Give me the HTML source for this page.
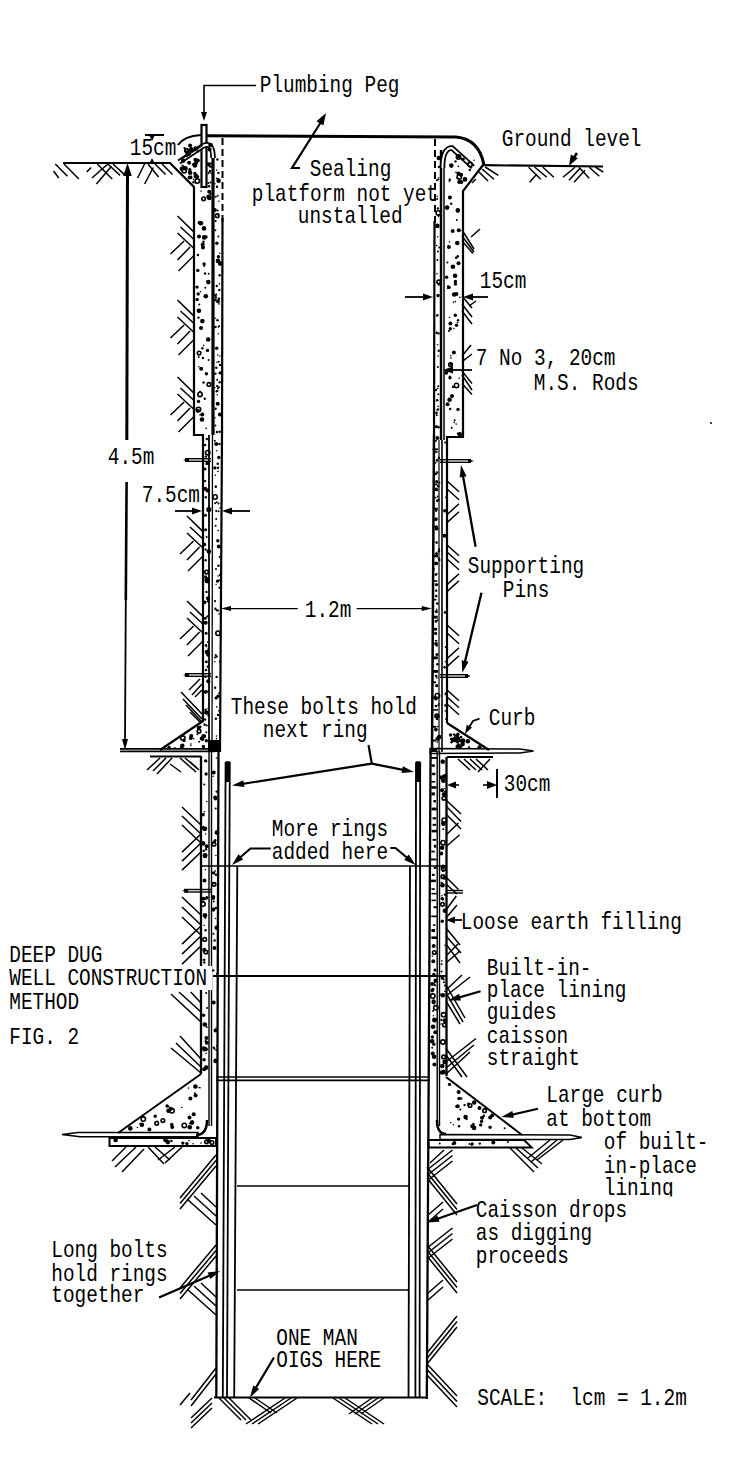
<!DOCTYPE html>
<html><head><meta charset="utf-8"><style>
html,body{margin:0;padding:0;background:#fff;width:742px;height:1461px;overflow:hidden}
svg{display:block}
</style></head><body>
<svg width="742" height="1461" viewBox="0 0 742 1461">
<rect width="742" height="1461" fill="#fff"/>
<g stroke="#000" fill="none">
<polyline points="256.0,85.5 204.0,85.5 204.0,113.0" stroke-width="1.6"/>
<polygon points="204.0,121.0 201.0,112.0 207.0,112.0" fill="#000" stroke-width="0"/>
<rect x="201.5" y="125" width="5" height="62" fill="none" stroke-width="2.2"/>
<path d="M178,145 Q184,136 201,135" stroke-width="2.2" fill="none"/>
<path d="M206,135.8 L456,137 Q479,139 484,165" stroke-width="3" fill="none"/>
<line x1="63.0" y1="163.0" x2="171.0" y2="163.0" stroke-width="2.2"/>
<line x1="483.0" y1="165.2" x2="603.0" y2="166.5" stroke-width="2.2"/>
<line x1="55.3" y1="164.0" x2="67.5" y2="176.3" stroke-width="1.5"/>
<line x1="53.5" y1="171.0" x2="58.8" y2="178.0" stroke-width="1.5"/>
<line x1="64.0" y1="164.0" x2="78.9" y2="179.0" stroke-width="1.5"/>
<line x1="86.8" y1="171.9" x2="91.2" y2="167.5" stroke-width="1.5"/>
<line x1="107.8" y1="164.0" x2="92.0" y2="178.0" stroke-width="1.5"/>
<line x1="111.3" y1="166.6" x2="96.4" y2="184.0" stroke-width="1.5"/>
<line x1="97.3" y1="164.0" x2="112.2" y2="179.0" stroke-width="1.5"/>
<line x1="107.8" y1="164.0" x2="120.0" y2="175.4" stroke-width="1.5"/>
<line x1="113.0" y1="164.0" x2="125.3" y2="175.4" stroke-width="1.5"/>
<line x1="144.6" y1="164.0" x2="137.6" y2="178.0" stroke-width="1.5"/>
<line x1="153.3" y1="167.5" x2="144.6" y2="184.0" stroke-width="1.5"/>
<line x1="148.0" y1="164.0" x2="158.6" y2="177.0" stroke-width="1.5"/>
<line x1="155.0" y1="164.0" x2="165.6" y2="174.5" stroke-width="1.5"/>
<line x1="162.0" y1="164.0" x2="172.6" y2="174.5" stroke-width="1.5"/>
<line x1="485.2" y1="167.0" x2="498.3" y2="175.3" stroke-width="1.5"/>
<line x1="482.0" y1="169.0" x2="494.0" y2="179.3" stroke-width="1.5"/>
<line x1="479.0" y1="172.0" x2="488.0" y2="181.0" stroke-width="1.5"/>
<line x1="476.0" y1="179.0" x2="472.0" y2="183.0" stroke-width="1.5"/>
<line x1="528.6" y1="167.2" x2="540.7" y2="179.3" stroke-width="1.5"/>
<line x1="534.6" y1="167.0" x2="546.8" y2="177.3" stroke-width="1.5"/>
<line x1="542.7" y1="167.0" x2="553.8" y2="177.3" stroke-width="1.5"/>
<line x1="536.7" y1="174.2" x2="529.6" y2="182.3" stroke-width="1.5"/>
<line x1="575.0" y1="167.2" x2="563.0" y2="177.3" stroke-width="1.5"/>
<line x1="580.0" y1="168.2" x2="569.0" y2="180.3" stroke-width="1.5"/>
<line x1="585.0" y1="170.2" x2="574.0" y2="182.3" stroke-width="1.5"/>
<line x1="579.0" y1="167.2" x2="589.2" y2="178.3" stroke-width="1.5"/>
<line x1="589.2" y1="167.2" x2="599.3" y2="176.3" stroke-width="1.5"/>
<line x1="595.3" y1="167.0" x2="603.3" y2="172.2" stroke-width="1.5"/>
<polyline points="170.0,163.0 194.0,187.0 194.0,435.0 203.0,435.0 203.0,722.0" stroke-width="2.2"/>
<line x1="222.5" y1="138.0" x2="222.5" y2="145.0" stroke-width="2"/>
<line x1="222.5" y1="149.0" x2="222.5" y2="156.0" stroke-width="2"/>
<line x1="222.5" y1="160.0" x2="222.5" y2="167.0" stroke-width="2"/>
<line x1="222.5" y1="171.0" x2="222.5" y2="178.0" stroke-width="2"/>
<line x1="222.5" y1="182.0" x2="222.5" y2="189.0" stroke-width="2"/>
<line x1="222.5" y1="193.0" x2="222.5" y2="200.0" stroke-width="2"/>
<line x1="222.5" y1="204.0" x2="222.5" y2="211.0" stroke-width="2"/>
<line x1="222.5" y1="215.0" x2="222.5" y2="222.0" stroke-width="2"/>
<line x1="222.5" y1="218.0" x2="222.0" y2="435.0" stroke-width="2.2"/>
<line x1="222.0" y1="435.0" x2="220.0" y2="752.0" stroke-width="2.2"/>
<line x1="213.0" y1="153.0" x2="213.0" y2="435.0" stroke-width="3.2"/>
<line x1="212.5" y1="435.0" x2="212.0" y2="752.0" stroke-width="1.3"/>
<line x1="209.0" y1="435.0" x2="209.0" y2="752.0" stroke-width="1.8"/>
<path d="M179,162 L203,146 Q213,141 213,158" stroke-width="5.5" fill="none"/>
<path d="M179,162 L203,146 Q213,141 213,158" stroke-width="2.0" fill="none" stroke="#fff"/>
<line x1="182.0" y1="159.0" x2="203.0" y2="145.5" stroke-width="1"/>
<line x1="145.0" y1="135.0" x2="164.0" y2="135.0" stroke-width="2"/>
<polygon points="152.0,141.0 149.0,135.0 155.0,135.0" fill="#000" stroke-width="0"/>
<polygon points="152.0,158.0 155.0,164.0 149.0,164.0" fill="#000" stroke-width="0"/>
<line x1="127.5" y1="170.0" x2="126.8" y2="440.0" stroke-width="3"/>
<line x1="126.6" y1="482.0" x2="125.8" y2="600.0" stroke-width="2.6"/>
<line x1="125.8" y1="600.0" x2="125.0" y2="742.0" stroke-width="1.8"/>
<polygon points="127.5,163.0 131.8,176.0 123.2,176.0" fill="#000" stroke-width="0"/>
<polygon points="125.0,750.0 122.0,739.0 128.0,739.0" fill="#000" stroke-width="0"/>
<line x1="175.0" y1="511.0" x2="197.0" y2="511.0" stroke-width="1.8"/>
<polygon points="202.0,511.0 192.0,514.5 192.0,507.5" fill="#000" stroke-width="0"/>
<line x1="250.0" y1="511.0" x2="227.0" y2="511.0" stroke-width="1.8"/>
<polygon points="222.0,511.0 232.0,507.5 232.0,514.5" fill="#000" stroke-width="0"/>
<line x1="185.0" y1="458.7" x2="211.0" y2="458.7" stroke-width="1.4"/>
<line x1="185.0" y1="461.3" x2="211.0" y2="461.3" stroke-width="1.4"/>
<polygon points="183.0,460.0 189.0,458.0 189.0,462.0" fill="#000" stroke-width="0"/>
<line x1="185.0" y1="673.7" x2="211.0" y2="673.7" stroke-width="1.4"/>
<line x1="185.0" y1="676.3" x2="211.0" y2="676.3" stroke-width="1.4"/>
<polygon points="183.0,675.0 189.0,673.0 189.0,677.0" fill="#000" stroke-width="0"/>
<line x1="203.0" y1="721.0" x2="160.0" y2="750.0" stroke-width="2.2"/>
<line x1="120.0" y1="748.8" x2="215.0" y2="748.8" stroke-width="1.7"/>
<line x1="120.0" y1="751.4" x2="215.0" y2="751.4" stroke-width="1.7"/>
<rect x="208" y="740" width="11" height="12" fill="#000" stroke-width="0"/>
<line x1="150.0" y1="756.5" x2="201.0" y2="756.5" stroke-width="2"/>
<line x1="201.0" y1="756.0" x2="201.0" y2="1074.0" stroke-width="2.3"/>
<line x1="209.0" y1="752.0" x2="209.0" y2="1126.0" stroke-width="1.4"/>
<line x1="211.5" y1="752.0" x2="211.5" y2="1126.0" stroke-width="1.4"/>
<line x1="218.5" y1="752.0" x2="216.3" y2="1397.0" stroke-width="2.3"/>
<circle cx="182.8" cy="738.1" r="2.2" fill="none" stroke-width="1.6"/>
<circle cx="182.8" cy="746.1" r="1.2" fill="#000" stroke-width="0"/>
<circle cx="183.9" cy="739.6" r="1.0" fill="#000" stroke-width="0"/>
<circle cx="199.2" cy="741.7" r="1.0" fill="#000" stroke-width="0"/>
<circle cx="206.4" cy="740.7" r="1.7" fill="#000" stroke-width="0"/>
<circle cx="190.7" cy="745.5" r="0.8" fill="#000" stroke-width="0"/>
<circle cx="182.3" cy="745.7" r="2.3" fill="#000" stroke-width="0"/>
<circle cx="204.9" cy="725.2" r="0.8" fill="#000" stroke-width="0"/>
<circle cx="204.6" cy="724.4" r="1.2" fill="#000" stroke-width="0"/>
<circle cx="191.0" cy="744.0" r="0.8" fill="#000" stroke-width="0"/>
<circle cx="180.9" cy="747.9" r="1.2" fill="#000" stroke-width="0"/>
<circle cx="198.7" cy="727.8" r="2.0" fill="#000" stroke-width="0"/>
<circle cx="197.4" cy="734.3" r="1.0" fill="#000" stroke-width="0"/>
<circle cx="199.0" cy="731.2" r="1.8" fill="none" stroke-width="1.6"/>
<circle cx="189.7" cy="738.6" r="0.8" fill="#000" stroke-width="0"/>
<circle cx="197.5" cy="731.9" r="0.8" fill="#000" stroke-width="0"/>
<circle cx="200.3" cy="726.7" r="1.2" fill="#000" stroke-width="0"/>
<circle cx="169.1" cy="747.5" r="1.7" fill="#000" stroke-width="0"/>
<circle cx="190.9" cy="738.0" r="2.0" fill="#000" stroke-width="0"/>
<circle cx="202.6" cy="739.3" r="1.7" fill="#000" stroke-width="0"/>
<circle cx="203.6" cy="736.3" r="2.3" fill="#000" stroke-width="0"/>
<circle cx="184.0" cy="740.6" r="1.7" fill="#000" stroke-width="0"/>
<circle cx="174.9" cy="747.8" r="0.8" fill="#000" stroke-width="0"/>
<circle cx="206.8" cy="725.5" r="1.0" fill="#000" stroke-width="0"/>
<circle cx="193.8" cy="738.8" r="0.8" fill="#000" stroke-width="0"/>
<circle cx="204.5" cy="735.8" r="1.0" fill="#000" stroke-width="0"/>
<circle cx="191.3" cy="736.0" r="2.0" fill="#000" stroke-width="0"/>
<circle cx="206.3" cy="732.2" r="1.0" fill="#000" stroke-width="0"/>
<circle cx="203.4" cy="746.5" r="1.7" fill="#000" stroke-width="0"/>
<circle cx="201.7" cy="738.5" r="2.0" fill="#000" stroke-width="0"/>
<line x1="160.0" y1="758.0" x2="147.0" y2="770.0" stroke-width="1.5"/>
<line x1="166.0" y1="758.0" x2="153.0" y2="771.0" stroke-width="1.5"/>
<line x1="172.0" y1="758.0" x2="157.0" y2="774.0" stroke-width="1.5"/>
<line x1="180.0" y1="758.0" x2="196.0" y2="772.0" stroke-width="1.5"/>
<line x1="185.0" y1="758.0" x2="197.0" y2="768.0" stroke-width="1.5"/>
<line x1="190.0" y1="762.0" x2="199.0" y2="770.0" stroke-width="1.5"/>
<line x1="170.0" y1="764.0" x2="181.0" y2="772.0" stroke-width="1.5"/>
<line x1="177.5" y1="216.0" x2="193.5" y2="231.6" stroke-width="1.5"/>
<line x1="180.5" y1="227.0" x2="193.5" y2="239.0" stroke-width="1.5"/>
<line x1="177.5" y1="233.0" x2="193.5" y2="248.0" stroke-width="1.5"/>
<line x1="184.1" y1="241.0" x2="170.5" y2="254.0" stroke-width="1.5"/>
<line x1="190.1" y1="247.0" x2="177.5" y2="260.0" stroke-width="1.5"/>
<line x1="193.5" y1="256.0" x2="178.5" y2="271.0" stroke-width="1.5"/>
<line x1="177.5" y1="300.0" x2="193.5" y2="315.6" stroke-width="1.5"/>
<line x1="180.5" y1="311.0" x2="193.5" y2="323.0" stroke-width="1.5"/>
<line x1="177.5" y1="317.0" x2="193.5" y2="332.0" stroke-width="1.5"/>
<line x1="184.1" y1="325.0" x2="170.5" y2="338.0" stroke-width="1.5"/>
<line x1="190.1" y1="331.0" x2="177.5" y2="344.0" stroke-width="1.5"/>
<line x1="193.5" y1="340.0" x2="178.5" y2="355.0" stroke-width="1.5"/>
<line x1="177.5" y1="377.0" x2="193.5" y2="392.6" stroke-width="1.5"/>
<line x1="180.5" y1="388.0" x2="193.5" y2="400.0" stroke-width="1.5"/>
<line x1="177.5" y1="394.0" x2="193.5" y2="409.0" stroke-width="1.5"/>
<line x1="184.1" y1="402.0" x2="170.5" y2="415.0" stroke-width="1.5"/>
<line x1="190.1" y1="408.0" x2="177.5" y2="421.0" stroke-width="1.5"/>
<line x1="193.5" y1="417.0" x2="178.5" y2="432.0" stroke-width="1.5"/>
<line x1="187.0" y1="516.0" x2="203.0" y2="531.6" stroke-width="1.5"/>
<line x1="190.0" y1="527.0" x2="203.0" y2="539.0" stroke-width="1.5"/>
<line x1="187.0" y1="533.0" x2="203.0" y2="548.0" stroke-width="1.5"/>
<line x1="193.6" y1="541.0" x2="180.0" y2="554.0" stroke-width="1.5"/>
<line x1="199.6" y1="547.0" x2="187.0" y2="560.0" stroke-width="1.5"/>
<line x1="203.0" y1="556.0" x2="188.0" y2="571.0" stroke-width="1.5"/>
<line x1="187.0" y1="601.0" x2="203.0" y2="616.6" stroke-width="1.5"/>
<line x1="190.0" y1="612.0" x2="203.0" y2="624.0" stroke-width="1.5"/>
<line x1="187.0" y1="618.0" x2="203.0" y2="633.0" stroke-width="1.5"/>
<line x1="193.6" y1="626.0" x2="180.0" y2="639.0" stroke-width="1.5"/>
<line x1="199.6" y1="632.0" x2="187.0" y2="645.0" stroke-width="1.5"/>
<line x1="203.0" y1="641.0" x2="188.0" y2="656.0" stroke-width="1.5"/>
<line x1="181.0" y1="692.0" x2="202.0" y2="714.0" stroke-width="1.5"/>
<line x1="183.0" y1="699.0" x2="202.0" y2="719.0" stroke-width="1.5"/>
<line x1="186.0" y1="705.0" x2="202.0" y2="722.0" stroke-width="1.5"/>
<line x1="190.0" y1="712.0" x2="201.0" y2="723.0" stroke-width="1.5"/>
<line x1="200.0" y1="679.0" x2="189.0" y2="690.0" stroke-width="1.5"/>
<line x1="202.0" y1="684.0" x2="192.0" y2="695.0" stroke-width="1.5"/>
<line x1="202.0" y1="690.0" x2="195.0" y2="697.0" stroke-width="1.5"/>
<circle cx="201.1" cy="191.1" r="0.8" fill="#000" stroke-width="0"/>
<circle cx="201.2" cy="368.8" r="2.0" fill="#000" stroke-width="0"/>
<circle cx="202.4" cy="321.1" r="2.3" fill="#000" stroke-width="0"/>
<circle cx="202.7" cy="244.6" r="2.0" fill="#000" stroke-width="0"/>
<circle cx="207.5" cy="350.4" r="1.7" fill="#000" stroke-width="0"/>
<circle cx="200.9" cy="223.2" r="2.3" fill="#000" stroke-width="0"/>
<circle cx="197.7" cy="410.8" r="2.0" fill="#000" stroke-width="0"/>
<circle cx="203.0" cy="247.4" r="2.0" fill="#000" stroke-width="0"/>
<circle cx="198.2" cy="294.0" r="1.7" fill="#000" stroke-width="0"/>
<circle cx="204.3" cy="265.9" r="1.0" fill="#000" stroke-width="0"/>
<circle cx="200.6" cy="408.3" r="0.8" fill="#000" stroke-width="0"/>
<circle cx="197.7" cy="298.9" r="0.8" fill="#000" stroke-width="0"/>
<circle cx="208.3" cy="282.1" r="2.3" fill="#000" stroke-width="0"/>
<circle cx="200.0" cy="394.4" r="2.2" fill="none" stroke-width="1.6"/>
<circle cx="200.1" cy="391.9" r="1.2" fill="#000" stroke-width="0"/>
<circle cx="204.1" cy="264.0" r="1.7" fill="#000" stroke-width="0"/>
<circle cx="205.3" cy="287.7" r="1.0" fill="#000" stroke-width="0"/>
<circle cx="198.8" cy="222.7" r="1.2" fill="#000" stroke-width="0"/>
<circle cx="203.6" cy="345.4" r="0.8" fill="#000" stroke-width="0"/>
<circle cx="206.0" cy="237.0" r="1.7" fill="#000" stroke-width="0"/>
<circle cx="206.4" cy="373.7" r="1.7" fill="#000" stroke-width="0"/>
<circle cx="197.9" cy="255.0" r="1.2" fill="#000" stroke-width="0"/>
<circle cx="208.6" cy="360.1" r="1.0" fill="#000" stroke-width="0"/>
<circle cx="197.1" cy="299.6" r="1.7" fill="#000" stroke-width="0"/>
<circle cx="201.0" cy="327.9" r="2.0" fill="#000" stroke-width="0"/>
<circle cx="202.4" cy="348.2" r="1.2" fill="#000" stroke-width="0"/>
<circle cx="208.9" cy="384.4" r="1.8" fill="none" stroke-width="1.6"/>
<circle cx="198.4" cy="409.4" r="2.2" fill="none" stroke-width="1.6"/>
<circle cx="203.6" cy="382.5" r="1.2" fill="#000" stroke-width="0"/>
<circle cx="208.7" cy="273.7" r="1.0" fill="#000" stroke-width="0"/>
<circle cx="200.5" cy="291.7" r="0.8" fill="#000" stroke-width="0"/>
<circle cx="198.5" cy="401.4" r="1.7" fill="#000" stroke-width="0"/>
<circle cx="197.8" cy="270.4" r="1.7" fill="#000" stroke-width="0"/>
<circle cx="205.8" cy="296.3" r="2.3" fill="#000" stroke-width="0"/>
<circle cx="198.5" cy="317.6" r="1.2" fill="#000" stroke-width="0"/>
<circle cx="204.0" cy="228.4" r="2.3" fill="#000" stroke-width="0"/>
<circle cx="199.1" cy="353.1" r="1.8" fill="none" stroke-width="1.6"/>
<circle cx="199.9" cy="222.7" r="2.0" fill="#000" stroke-width="0"/>
<circle cx="204.2" cy="237.4" r="2.3" fill="#000" stroke-width="0"/>
<circle cx="203.6" cy="198.8" r="1.8" fill="none" stroke-width="1.6"/>
<circle cx="202.9" cy="358.0" r="1.2" fill="#000" stroke-width="0"/>
<circle cx="202.3" cy="414.5" r="2.0" fill="#000" stroke-width="0"/>
<circle cx="199.3" cy="304.4" r="1.0" fill="#000" stroke-width="0"/>
<circle cx="206.2" cy="428.4" r="0.8" fill="#000" stroke-width="0"/>
<circle cx="198.6" cy="357.0" r="1.0" fill="#000" stroke-width="0"/>
<circle cx="198.9" cy="310.7" r="2.3" fill="#000" stroke-width="0"/>
<circle cx="199.0" cy="236.6" r="2.0" fill="#000" stroke-width="0"/>
<circle cx="208.2" cy="339.5" r="2.3" fill="#000" stroke-width="0"/>
<circle cx="203.5" cy="241.7" r="1.2" fill="#000" stroke-width="0"/>
<circle cx="204.8" cy="398.8" r="1.2" fill="#000" stroke-width="0"/>
<circle cx="205.0" cy="273.5" r="1.2" fill="#000" stroke-width="0"/>
<circle cx="200.0" cy="415.0" r="0.8" fill="#000" stroke-width="0"/>
<circle cx="198.8" cy="366.7" r="0.8" fill="#000" stroke-width="0"/>
<circle cx="202.0" cy="419.5" r="2.3" fill="#000" stroke-width="0"/>
<circle cx="197.0" cy="287.1" r="1.7" fill="#000" stroke-width="0"/>
<circle cx="206.1" cy="670.0" r="1.2" fill="#000" stroke-width="0"/>
<circle cx="207.0" cy="652.1" r="2.3" fill="#000" stroke-width="0"/>
<circle cx="209.0" cy="664.8" r="0.8" fill="#000" stroke-width="0"/>
<circle cx="207.1" cy="598.1" r="0.8" fill="#000" stroke-width="0"/>
<circle cx="208.0" cy="601.2" r="1.2" fill="#000" stroke-width="0"/>
<circle cx="206.8" cy="653.9" r="1.0" fill="#000" stroke-width="0"/>
<circle cx="206.6" cy="537.1" r="1.0" fill="#000" stroke-width="0"/>
<circle cx="206.7" cy="646.7" r="0.8" fill="#000" stroke-width="0"/>
<circle cx="207.6" cy="463.0" r="2.0" fill="#000" stroke-width="0"/>
<circle cx="208.2" cy="681.3" r="2.0" fill="#000" stroke-width="0"/>
<circle cx="207.4" cy="490.4" r="2.0" fill="#000" stroke-width="0"/>
<circle cx="208.8" cy="509.6" r="1.8" fill="none" stroke-width="1.6"/>
<circle cx="208.9" cy="551.6" r="2.3" fill="#000" stroke-width="0"/>
<circle cx="208.2" cy="654.7" r="2.0" fill="#000" stroke-width="0"/>
<circle cx="205.2" cy="488.7" r="2.0" fill="#000" stroke-width="0"/>
<circle cx="206.8" cy="439.0" r="1.2" fill="#000" stroke-width="0"/>
<circle cx="205.6" cy="710.0" r="0.8" fill="#000" stroke-width="0"/>
<circle cx="208.0" cy="598.3" r="2.0" fill="#000" stroke-width="0"/>
<circle cx="207.1" cy="577.8" r="0.8" fill="#000" stroke-width="0"/>
<circle cx="208.6" cy="715.3" r="1.2" fill="#000" stroke-width="0"/>
<circle cx="206.7" cy="579.9" r="2.3" fill="#000" stroke-width="0"/>
<circle cx="206.3" cy="464.1" r="1.0" fill="#000" stroke-width="0"/>
<circle cx="207.3" cy="580.7" r="1.8" fill="none" stroke-width="1.6"/>
<circle cx="207.8" cy="666.7" r="1.2" fill="#000" stroke-width="0"/>
<circle cx="208.0" cy="708.3" r="0.8" fill="#000" stroke-width="0"/>
<circle cx="206.3" cy="712.5" r="2.3" fill="#000" stroke-width="0"/>
<circle cx="207.7" cy="452.7" r="2.2" fill="none" stroke-width="1.6"/>
<circle cx="205.7" cy="549.6" r="1.2" fill="#000" stroke-width="0"/>
<circle cx="205.7" cy="622.7" r="2.0" fill="#000" stroke-width="0"/>
<circle cx="208.0" cy="649.1" r="0.8" fill="#000" stroke-width="0"/>
<circle cx="207.5" cy="616.4" r="1.2" fill="#000" stroke-width="0"/>
<circle cx="206.3" cy="691.8" r="1.7" fill="#000" stroke-width="0"/>
<circle cx="207.5" cy="642.1" r="0.8" fill="#000" stroke-width="0"/>
<circle cx="206.6" cy="572.1" r="1.8" fill="none" stroke-width="1.6"/>
<circle cx="195.3" cy="182.7" r="0.8" fill="#000" stroke-width="0"/>
<circle cx="190.1" cy="145.4" r="2.0" fill="#000" stroke-width="0"/>
<circle cx="185.4" cy="168.2" r="2.3" fill="#000" stroke-width="0"/>
<circle cx="197.3" cy="176.9" r="2.0" fill="#000" stroke-width="0"/>
<circle cx="181.9" cy="168.7" r="2.3" fill="#000" stroke-width="0"/>
<circle cx="189.8" cy="169.8" r="1.7" fill="#000" stroke-width="0"/>
<circle cx="191.3" cy="149.2" r="2.3" fill="#000" stroke-width="0"/>
<circle cx="185.6" cy="169.3" r="1.2" fill="#000" stroke-width="0"/>
<circle cx="197.8" cy="147.6" r="1.0" fill="#000" stroke-width="0"/>
<circle cx="187.1" cy="156.6" r="1.0" fill="#000" stroke-width="0"/>
<circle cx="193.6" cy="179.4" r="0.8" fill="#000" stroke-width="0"/>
<circle cx="195.9" cy="176.1" r="2.3" fill="#000" stroke-width="0"/>
<circle cx="184.2" cy="170.7" r="2.2" fill="none" stroke-width="1.6"/>
<circle cx="195.7" cy="148.6" r="2.3" fill="#000" stroke-width="0"/>
<circle cx="189.1" cy="162.8" r="2.0" fill="#000" stroke-width="0"/>
<circle cx="190.1" cy="172.7" r="2.3" fill="#000" stroke-width="0"/>
<circle cx="183.1" cy="160.7" r="2.3" fill="#000" stroke-width="0"/>
<circle cx="197.8" cy="160.6" r="2.0" fill="#000" stroke-width="0"/>
<circle cx="186.5" cy="150.4" r="1.8" fill="none" stroke-width="1.6"/>
<circle cx="189.6" cy="177.4" r="2.0" fill="#000" stroke-width="0"/>
<circle cx="194.9" cy="165.4" r="2.3" fill="#000" stroke-width="0"/>
<circle cx="195.3" cy="150.4" r="0.8" fill="#000" stroke-width="0"/>
<circle cx="191.3" cy="177.8" r="1.2" fill="#000" stroke-width="0"/>
<circle cx="182.6" cy="165.6" r="1.0" fill="#000" stroke-width="0"/>
<circle cx="193.4" cy="182.3" r="1.2" fill="#000" stroke-width="0"/>
<circle cx="195.4" cy="159.8" r="2.0" fill="#000" stroke-width="0"/>
<circle cx="194.1" cy="164.5" r="2.0" fill="#000" stroke-width="0"/>
<circle cx="197.9" cy="151.5" r="1.2" fill="#000" stroke-width="0"/>
<circle cx="184.4" cy="147.9" r="1.0" fill="#000" stroke-width="0"/>
<circle cx="188.2" cy="152.9" r="2.2" fill="none" stroke-width="1.6"/>
<circle cx="191.2" cy="176.5" r="0.8" fill="#000" stroke-width="0"/>
<circle cx="184.0" cy="167.7" r="2.0" fill="#000" stroke-width="0"/>
<circle cx="189.9" cy="150.5" r="1.0" fill="#000" stroke-width="0"/>
<circle cx="196.3" cy="162.8" r="2.0" fill="#000" stroke-width="0"/>
<circle cx="191.5" cy="176.3" r="0.8" fill="#000" stroke-width="0"/>
<circle cx="185.0" cy="150.2" r="1.0" fill="#000" stroke-width="0"/>
<circle cx="194.4" cy="177.0" r="0.8" fill="#000" stroke-width="0"/>
<circle cx="197.3" cy="181.1" r="2.2" fill="none" stroke-width="1.6"/>
<circle cx="194.9" cy="173.5" r="1.7" fill="#000" stroke-width="0"/>
<circle cx="209.1" cy="186.3" r="1.2" fill="#000" stroke-width="0"/>
<circle cx="210.1" cy="171.0" r="1.2" fill="#000" stroke-width="0"/>
<circle cx="208.3" cy="183.0" r="1.0" fill="#000" stroke-width="0"/>
<circle cx="210.5" cy="145.0" r="2.3" fill="#000" stroke-width="0"/>
<circle cx="210.9" cy="165.0" r="1.8" fill="none" stroke-width="1.6"/>
<circle cx="210.9" cy="166.4" r="1.0" fill="#000" stroke-width="0"/>
<circle cx="209.6" cy="149.5" r="2.0" fill="#000" stroke-width="0"/>
<circle cx="208.6" cy="164.3" r="2.0" fill="#000" stroke-width="0"/>
<circle cx="210.3" cy="144.0" r="0.8" fill="#000" stroke-width="0"/>
<circle cx="209.3" cy="198.0" r="2.3" fill="#000" stroke-width="0"/>
<circle cx="209.2" cy="191.8" r="2.0" fill="#000" stroke-width="0"/>
<circle cx="208.2" cy="173.8" r="0.8" fill="#000" stroke-width="0"/>
<circle cx="210.6" cy="194.1" r="1.2" fill="#000" stroke-width="0"/>
<circle cx="208.9" cy="172.4" r="1.0" fill="#000" stroke-width="0"/>
<circle cx="210.8" cy="173.3" r="0.8" fill="#000" stroke-width="0"/>
<circle cx="208.6" cy="196.7" r="2.3" fill="#000" stroke-width="0"/>
<circle cx="210.2" cy="166.8" r="0.8" fill="#000" stroke-width="0"/>
<circle cx="210.4" cy="182.5" r="1.0" fill="#000" stroke-width="0"/>
<circle cx="711.0" cy="423.0" r="1.0" fill="#000" stroke-width="0"/>
<circle cx="218.9" cy="201.3" r="0.8" fill="#000" stroke-width="0"/>
<circle cx="217.0" cy="610.4" r="1.0" fill="#000" stroke-width="0"/>
<circle cx="215.4" cy="230.3" r="1.0" fill="#000" stroke-width="0"/>
<circle cx="216.3" cy="391.4" r="1.0" fill="#000" stroke-width="0"/>
<circle cx="218.3" cy="333.8" r="0.8" fill="#000" stroke-width="0"/>
<circle cx="218.6" cy="511.2" r="1.0" fill="#000" stroke-width="0"/>
<circle cx="215.3" cy="327.1" r="1.2" fill="#000" stroke-width="0"/>
<circle cx="216.6" cy="450.7" r="0.8" fill="#000" stroke-width="0"/>
<circle cx="218.3" cy="236.6" r="1.0" fill="#000" stroke-width="0"/>
<circle cx="217.8" cy="355.1" r="0.8" fill="#000" stroke-width="0"/>
<circle cx="218.0" cy="260.9" r="2.3" fill="#000" stroke-width="0"/>
<circle cx="218.9" cy="710.9" r="0.8" fill="#000" stroke-width="0"/>
<circle cx="218.4" cy="260.7" r="0.8" fill="#000" stroke-width="0"/>
<circle cx="217.3" cy="394.7" r="0.8" fill="#000" stroke-width="0"/>
<circle cx="217.2" cy="215.7" r="1.8" fill="none" stroke-width="1.6"/>
<circle cx="215.7" cy="487.3" r="0.8" fill="#000" stroke-width="0"/>
<circle cx="217.9" cy="301.3" r="2.0" fill="#000" stroke-width="0"/>
<circle cx="218.2" cy="214.8" r="1.0" fill="#000" stroke-width="0"/>
<circle cx="218.8" cy="361.8" r="1.0" fill="#000" stroke-width="0"/>
<circle cx="219.8" cy="253.2" r="0.8" fill="#000" stroke-width="0"/>
<circle cx="217.2" cy="386.1" r="1.2" fill="#000" stroke-width="0"/>
<circle cx="215.0" cy="601.2" r="1.0" fill="#000" stroke-width="0"/>
<circle cx="218.3" cy="530.6" r="0.8" fill="#000" stroke-width="0"/>
<circle cx="215.4" cy="425.5" r="1.0" fill="#000" stroke-width="0"/>
<circle cx="214.8" cy="387.5" r="0.8" fill="#000" stroke-width="0"/>
<circle cx="215.8" cy="486.5" r="1.2" fill="#000" stroke-width="0"/>
<circle cx="219.5" cy="580.2" r="1.0" fill="#000" stroke-width="0"/>
<circle cx="217.3" cy="391.0" r="1.2" fill="#000" stroke-width="0"/>
<circle cx="218.0" cy="388.2" r="1.0" fill="#000" stroke-width="0"/>
<circle cx="219.9" cy="661.6" r="1.0" fill="#000" stroke-width="0"/>
<circle cx="214.8" cy="209.9" r="2.0" fill="#000" stroke-width="0"/>
<circle cx="217.7" cy="403.7" r="2.0" fill="#000" stroke-width="0"/>
<circle cx="218.3" cy="404.3" r="1.0" fill="#000" stroke-width="0"/>
<circle cx="219.3" cy="325.9" r="0.8" fill="#000" stroke-width="0"/>
<circle cx="215.7" cy="655.1" r="1.0" fill="#000" stroke-width="0"/>
<circle cx="217.8" cy="540.7" r="1.7" fill="#000" stroke-width="0"/>
<circle cx="220.1" cy="365.0" r="1.2" fill="#000" stroke-width="0"/>
<circle cx="219.6" cy="275.3" r="1.2" fill="#000" stroke-width="0"/>
<circle cx="214.9" cy="183.8" r="0.8" fill="#000" stroke-width="0"/>
<circle cx="214.9" cy="467.9" r="1.7" fill="#000" stroke-width="0"/>
<circle cx="216.1" cy="584.2" r="0.8" fill="#000" stroke-width="0"/>
<circle cx="219.7" cy="382.3" r="1.2" fill="#000" stroke-width="0"/>
<circle cx="215.6" cy="326.8" r="1.0" fill="#000" stroke-width="0"/>
<circle cx="216.2" cy="444.0" r="2.0" fill="#000" stroke-width="0"/>
<circle cx="220.2" cy="263.6" r="2.3" fill="#000" stroke-width="0"/>
<circle cx="219.9" cy="356.0" r="0.8" fill="#000" stroke-width="0"/>
<circle cx="218.4" cy="565.7" r="1.2" fill="#000" stroke-width="0"/>
<circle cx="218.4" cy="256.8" r="1.7" fill="#000" stroke-width="0"/>
<circle cx="218.6" cy="326.7" r="1.0" fill="#000" stroke-width="0"/>
<circle cx="220.1" cy="575.0" r="1.2" fill="#000" stroke-width="0"/>
<circle cx="216.9" cy="243.3" r="1.7" fill="#000" stroke-width="0"/>
<circle cx="219.0" cy="259.8" r="0.8" fill="#000" stroke-width="0"/>
<circle cx="217.5" cy="320.2" r="1.2" fill="#000" stroke-width="0"/>
<circle cx="217.7" cy="210.6" r="1.0" fill="#000" stroke-width="0"/>
<circle cx="215.6" cy="220.9" r="1.0" fill="#000" stroke-width="0"/>
<circle cx="217.7" cy="463.8" r="1.2" fill="#000" stroke-width="0"/>
<circle cx="218.1" cy="467.7" r="1.2" fill="#000" stroke-width="0"/>
<circle cx="219.3" cy="290.0" r="1.2" fill="#000" stroke-width="0"/>
<circle cx="215.1" cy="687.7" r="1.2" fill="#000" stroke-width="0"/>
<circle cx="216.7" cy="706.9" r="0.8" fill="#000" stroke-width="0"/>
<circle cx="217.4" cy="159.5" r="1.2" fill="#000" stroke-width="0"/>
<circle cx="218.8" cy="457.5" r="1.7" fill="#000" stroke-width="0"/>
<circle cx="218.2" cy="610.5" r="1.0" fill="#000" stroke-width="0"/>
<circle cx="215.6" cy="408.7" r="1.2" fill="#000" stroke-width="0"/>
<circle cx="219.5" cy="283.9" r="0.8" fill="#000" stroke-width="0"/>
<circle cx="220.0" cy="508.0" r="0.8" fill="#000" stroke-width="0"/>
<circle cx="218.2" cy="576.0" r="0.8" fill="#000" stroke-width="0"/>
<circle cx="216.3" cy="511.1" r="1.0" fill="#000" stroke-width="0"/>
<circle cx="217.5" cy="581.1" r="1.7" fill="#000" stroke-width="0"/>
<circle cx="218.0" cy="471.4" r="0.8" fill="#000" stroke-width="0"/>
<circle cx="218.4" cy="172.9" r="1.2" fill="#000" stroke-width="0"/>
<circle cx="216.2" cy="518.9" r="1.0" fill="#000" stroke-width="0"/>
<circle cx="219.4" cy="444.0" r="1.2" fill="#000" stroke-width="0"/>
<circle cx="215.2" cy="295.4" r="1.2" fill="#000" stroke-width="0"/>
<circle cx="218.6" cy="503.5" r="1.0" fill="#000" stroke-width="0"/>
<circle cx="216.9" cy="362.3" r="0.8" fill="#000" stroke-width="0"/>
<circle cx="214.9" cy="600.8" r="0.8" fill="#000" stroke-width="0"/>
<circle cx="215.0" cy="417.7" r="0.8" fill="#000" stroke-width="0"/>
<circle cx="217.7" cy="195.8" r="1.0" fill="#000" stroke-width="0"/>
<circle cx="217.0" cy="186.7" r="1.2" fill="#000" stroke-width="0"/>
<circle cx="219.3" cy="587.8" r="1.0" fill="#000" stroke-width="0"/>
<circle cx="214.8" cy="661.8" r="0.8" fill="#000" stroke-width="0"/>
<circle cx="216.4" cy="738.6" r="0.8" fill="#000" stroke-width="0"/>
<circle cx="215.1" cy="497.0" r="2.2" fill="none" stroke-width="1.6"/>
<circle cx="218.0" cy="696.3" r="1.7" fill="#000" stroke-width="0"/>
<circle cx="217.2" cy="379.7" r="1.0" fill="#000" stroke-width="0"/>
<circle cx="216.7" cy="170.0" r="0.8" fill="#000" stroke-width="0"/>
<circle cx="215.3" cy="475.2" r="0.8" fill="#000" stroke-width="0"/>
<circle cx="216.8" cy="502.3" r="1.0" fill="#000" stroke-width="0"/>
<circle cx="217.1" cy="745.9" r="1.0" fill="#000" stroke-width="0"/>
<circle cx="215.4" cy="373.6" r="1.2" fill="#000" stroke-width="0"/>
<circle cx="215.9" cy="718.7" r="1.2" fill="#000" stroke-width="0"/>
<circle cx="215.3" cy="300.0" r="1.2" fill="#000" stroke-width="0"/>
<circle cx="219.0" cy="303.9" r="0.8" fill="#000" stroke-width="0"/>
<circle cx="219.1" cy="613.9" r="0.8" fill="#000" stroke-width="0"/>
<circle cx="219.1" cy="693.3" r="1.0" fill="#000" stroke-width="0"/>
<circle cx="219.9" cy="414.5" r="2.0" fill="#000" stroke-width="0"/>
<circle cx="216.3" cy="610.1" r="0.8" fill="#000" stroke-width="0"/>
<circle cx="216.1" cy="510.8" r="0.8" fill="#000" stroke-width="0"/>
<circle cx="215.1" cy="503.2" r="1.0" fill="#000" stroke-width="0"/>
<circle cx="216.9" cy="432.0" r="1.2" fill="#000" stroke-width="0"/>
<circle cx="218.9" cy="298.8" r="1.2" fill="#000" stroke-width="0"/>
<circle cx="216.6" cy="676.9" r="1.2" fill="#000" stroke-width="0"/>
<circle cx="219.0" cy="387.2" r="1.0" fill="#000" stroke-width="0"/>
<circle cx="215.6" cy="318.2" r="0.8" fill="#000" stroke-width="0"/>
<circle cx="215.0" cy="657.4" r="1.0" fill="#000" stroke-width="0"/>
<circle cx="218.0" cy="633.3" r="2.2" fill="none" stroke-width="1.6"/>
<circle cx="218.6" cy="180.8" r="2.3" fill="#000" stroke-width="0"/>
<circle cx="218.8" cy="546.6" r="2.0" fill="#000" stroke-width="0"/>
<circle cx="215.6" cy="525.8" r="1.0" fill="#000" stroke-width="0"/>
<circle cx="214.8" cy="440.7" r="1.0" fill="#000" stroke-width="0"/>
<circle cx="216.0" cy="569.0" r="1.0" fill="#000" stroke-width="0"/>
<circle cx="215.4" cy="608.7" r="1.2" fill="#000" stroke-width="0"/>
<circle cx="215.7" cy="196.8" r="1.0" fill="#000" stroke-width="0"/>
<circle cx="219.6" cy="431.8" r="1.2" fill="#000" stroke-width="0"/>
<circle cx="216.2" cy="697.9" r="1.7" fill="#000" stroke-width="0"/>
<circle cx="216.6" cy="178.4" r="0.8" fill="#000" stroke-width="0"/>
<circle cx="216.6" cy="656.5" r="1.2" fill="#000" stroke-width="0"/>
<circle cx="216.3" cy="294.6" r="1.0" fill="#000" stroke-width="0"/>
<circle cx="216.3" cy="367.7" r="1.2" fill="#000" stroke-width="0"/>
<circle cx="216.7" cy="348.3" r="1.7" fill="#000" stroke-width="0"/>
<circle cx="218.0" cy="714.9" r="1.2" fill="#000" stroke-width="0"/>
<circle cx="218.3" cy="178.8" r="1.0" fill="#000" stroke-width="0"/>
<circle cx="220.2" cy="372.9" r="1.7" fill="#000" stroke-width="0"/>
<circle cx="219.6" cy="556.9" r="1.0" fill="#000" stroke-width="0"/>
<circle cx="216.5" cy="736.0" r="0.8" fill="#000" stroke-width="0"/>
<circle cx="215.9" cy="297.5" r="1.2" fill="#000" stroke-width="0"/>
<circle cx="216.8" cy="286.0" r="1.2" fill="#000" stroke-width="0"/>
<polyline points="483.0,165.0 463.0,191.0 463.0,437.0 447.0,437.0 447.0,723.0" stroke-width="2.2"/>
<line x1="435.0" y1="139.0" x2="435.0" y2="146.0" stroke-width="2"/>
<line x1="435.0" y1="150.0" x2="435.0" y2="157.0" stroke-width="2"/>
<line x1="435.0" y1="161.0" x2="435.0" y2="168.0" stroke-width="2"/>
<line x1="435.0" y1="172.0" x2="435.0" y2="179.0" stroke-width="2"/>
<line x1="435.0" y1="183.0" x2="435.0" y2="190.0" stroke-width="2"/>
<line x1="435.0" y1="194.0" x2="435.0" y2="201.0" stroke-width="2"/>
<line x1="435.0" y1="205.0" x2="435.0" y2="212.0" stroke-width="2"/>
<line x1="435.0" y1="216.0" x2="435.0" y2="223.0" stroke-width="2"/>
<line x1="434.5" y1="221.0" x2="434.0" y2="435.0" stroke-width="2.2"/>
<line x1="434.0" y1="435.0" x2="432.0" y2="752.0" stroke-width="2.5"/>
<line x1="441.0" y1="150.0" x2="441.0" y2="440.0" stroke-width="2.4"/>
<line x1="444.0" y1="150.0" x2="444.0" y2="440.0" stroke-width="1.5"/>
<line x1="439.0" y1="440.0" x2="439.0" y2="752.0" stroke-width="1.2"/>
<line x1="442.0" y1="440.0" x2="442.0" y2="752.0" stroke-width="1.6"/>
<path d="M442.5,168 Q442.5,148 452,148 L473,167" stroke-width="5.5" fill="none"/>
<path d="M442.5,168 Q442.5,148 452,148 L473,167" stroke-width="2.0" fill="none" stroke="#fff"/>
<line x1="405.0" y1="297.0" x2="428.0" y2="297.0" stroke-width="1.8"/>
<polygon points="433.0,297.0 423.0,300.5 423.0,293.5" fill="#000" stroke-width="0"/>
<line x1="488.0" y1="297.0" x2="468.0" y2="297.0" stroke-width="1.8"/>
<polygon points="463.0,297.0 473.0,293.5 473.0,300.5" fill="#000" stroke-width="0"/>
<line x1="472.0" y1="370.0" x2="448.0" y2="370.0" stroke-width="1.8"/>
<polygon points="443.0,370.0 453.0,366.5 453.0,373.5" fill="#000" stroke-width="0"/>
<line x1="440.0" y1="459.7" x2="471.0" y2="459.7" stroke-width="1.4"/>
<line x1="440.0" y1="462.3" x2="471.0" y2="462.3" stroke-width="1.4"/>
<polygon points="474.0,461.0 468.0,463.0 468.0,459.0" fill="#000" stroke-width="0"/>
<line x1="440.0" y1="674.7" x2="468.0" y2="674.7" stroke-width="1.4"/>
<line x1="440.0" y1="677.3" x2="468.0" y2="677.3" stroke-width="1.4"/>
<polygon points="471.0,676.0 465.0,678.0 465.0,674.0" fill="#000" stroke-width="0"/>
<line x1="475.6" y1="546.7" x2="462.1" y2="470.9" stroke-width="2.3"/>
<polygon points="461.0,465.0 466.6,476.2 459.7,477.4" fill="#000" stroke-width="0"/>
<line x1="481.5" y1="592.7" x2="463.7" y2="666.9" stroke-width="2.3"/>
<polygon points="462.3,672.7 461.7,660.2 468.5,661.8" fill="#000" stroke-width="0"/>
<line x1="462.0" y1="230.0" x2="474.0" y2="249.0" stroke-width="1.5"/>
<line x1="462.0" y1="236.0" x2="474.0" y2="252.0" stroke-width="1.5"/>
<line x1="462.0" y1="241.0" x2="473.0" y2="253.4" stroke-width="1.5"/>
<line x1="471.0" y1="237.0" x2="480.0" y2="229.0" stroke-width="1.5"/>
<line x1="462.0" y1="296.0" x2="472.0" y2="308.0" stroke-width="1.5"/>
<line x1="462.0" y1="304.0" x2="472.0" y2="317.0" stroke-width="1.5"/>
<line x1="462.0" y1="311.0" x2="472.0" y2="324.0" stroke-width="1.5"/>
<line x1="469.0" y1="306.0" x2="476.0" y2="301.0" stroke-width="1.5"/>
<line x1="462.0" y1="356.0" x2="471.0" y2="345.0" stroke-width="1.5"/>
<line x1="462.0" y1="361.6" x2="472.0" y2="354.0" stroke-width="1.5"/>
<line x1="462.0" y1="371.0" x2="472.0" y2="383.6" stroke-width="1.5"/>
<line x1="462.0" y1="375.0" x2="472.0" y2="390.0" stroke-width="1.5"/>
<line x1="462.0" y1="383.6" x2="472.0" y2="394.5" stroke-width="1.5"/>
<line x1="577.0" y1="153.0" x2="573.0" y2="159.0" stroke-width="2.5"/>
<polygon points="569.0,166.0 570.8,154.4 577.8,158.3" fill="#000" stroke-width="0"/>
<line x1="447.0" y1="481.0" x2="459.0" y2="491.8" stroke-width="1.5"/>
<line x1="447.0" y1="489.0" x2="459.0" y2="499.8" stroke-width="1.5"/>
<line x1="447.0" y1="514.6" x2="459.0" y2="503.8" stroke-width="1.5"/>
<line x1="447.0" y1="522.6" x2="459.0" y2="511.8" stroke-width="1.5"/>
<line x1="447.0" y1="545.0" x2="459.0" y2="555.8" stroke-width="1.5"/>
<line x1="447.0" y1="552.0" x2="459.0" y2="562.8" stroke-width="1.5"/>
<line x1="447.0" y1="559.0" x2="459.0" y2="569.8" stroke-width="1.5"/>
<line x1="447.0" y1="584.6" x2="459.0" y2="573.8" stroke-width="1.5"/>
<line x1="447.0" y1="591.6" x2="459.0" y2="580.8" stroke-width="1.5"/>
<line x1="447.0" y1="625.0" x2="459.0" y2="635.8" stroke-width="1.5"/>
<line x1="447.0" y1="633.0" x2="459.0" y2="643.8" stroke-width="1.5"/>
<line x1="447.0" y1="658.6" x2="459.0" y2="647.8" stroke-width="1.5"/>
<line x1="447.0" y1="666.6" x2="459.0" y2="655.8" stroke-width="1.5"/>
<line x1="447.0" y1="690.0" x2="459.0" y2="700.8" stroke-width="1.5"/>
<line x1="447.0" y1="697.0" x2="459.0" y2="707.8" stroke-width="1.5"/>
<line x1="447.0" y1="704.0" x2="459.0" y2="714.8" stroke-width="1.5"/>
<circle cx="457.8" cy="210.4" r="2.3" fill="#000" stroke-width="0"/>
<circle cx="450.2" cy="409.0" r="1.2" fill="#000" stroke-width="0"/>
<circle cx="447.7" cy="288.5" r="0.8" fill="#000" stroke-width="0"/>
<circle cx="458.8" cy="230.2" r="2.0" fill="#000" stroke-width="0"/>
<circle cx="458.5" cy="263.2" r="2.0" fill="#000" stroke-width="0"/>
<circle cx="457.5" cy="322.4" r="0.8" fill="#000" stroke-width="0"/>
<circle cx="450.5" cy="364.7" r="1.8" fill="none" stroke-width="1.6"/>
<circle cx="459.8" cy="434.3" r="2.3" fill="#000" stroke-width="0"/>
<circle cx="449.6" cy="399.8" r="2.3" fill="#000" stroke-width="0"/>
<circle cx="452.7" cy="231.0" r="2.0" fill="#000" stroke-width="0"/>
<circle cx="453.1" cy="386.9" r="1.2" fill="#000" stroke-width="0"/>
<circle cx="455.4" cy="281.5" r="1.7" fill="#000" stroke-width="0"/>
<circle cx="450.0" cy="377.8" r="1.7" fill="#000" stroke-width="0"/>
<circle cx="454.2" cy="294.5" r="2.3" fill="#000" stroke-width="0"/>
<circle cx="457.3" cy="257.2" r="0.8" fill="#000" stroke-width="0"/>
<circle cx="450.8" cy="355.7" r="0.8" fill="#000" stroke-width="0"/>
<circle cx="456.5" cy="385.5" r="2.2" fill="none" stroke-width="1.6"/>
<circle cx="456.4" cy="294.1" r="2.0" fill="#000" stroke-width="0"/>
<circle cx="451.0" cy="358.1" r="0.8" fill="#000" stroke-width="0"/>
<circle cx="456.8" cy="220.1" r="1.0" fill="#000" stroke-width="0"/>
<circle cx="450.4" cy="323.5" r="2.0" fill="#000" stroke-width="0"/>
<circle cx="449.9" cy="197.5" r="2.0" fill="#000" stroke-width="0"/>
<circle cx="447.1" cy="207.6" r="2.3" fill="#000" stroke-width="0"/>
<circle cx="449.1" cy="287.4" r="1.7" fill="#000" stroke-width="0"/>
<circle cx="456.5" cy="325.3" r="1.7" fill="#000" stroke-width="0"/>
<circle cx="452.0" cy="396.1" r="2.0" fill="#000" stroke-width="0"/>
<circle cx="459.8" cy="297.4" r="0.8" fill="#000" stroke-width="0"/>
<circle cx="448.9" cy="330.9" r="1.0" fill="#000" stroke-width="0"/>
<circle cx="448.9" cy="247.0" r="2.0" fill="#000" stroke-width="0"/>
<circle cx="453.9" cy="328.5" r="0.8" fill="#000" stroke-width="0"/>
<circle cx="447.6" cy="404.3" r="2.0" fill="#000" stroke-width="0"/>
<circle cx="450.3" cy="328.7" r="1.7" fill="#000" stroke-width="0"/>
<circle cx="453.9" cy="352.6" r="2.0" fill="#000" stroke-width="0"/>
<circle cx="447.4" cy="262.5" r="1.0" fill="#000" stroke-width="0"/>
<circle cx="454.3" cy="422.4" r="0.8" fill="#000" stroke-width="0"/>
<circle cx="456.1" cy="257.7" r="1.2" fill="#000" stroke-width="0"/>
<circle cx="449.6" cy="317.5" r="0.8" fill="#000" stroke-width="0"/>
<circle cx="457.8" cy="256.2" r="1.2" fill="#000" stroke-width="0"/>
<circle cx="452.9" cy="266.8" r="2.3" fill="#000" stroke-width="0"/>
<circle cx="457.8" cy="433.5" r="1.0" fill="#000" stroke-width="0"/>
<circle cx="451.2" cy="364.5" r="1.2" fill="#000" stroke-width="0"/>
<circle cx="448.1" cy="286.5" r="1.2" fill="#000" stroke-width="0"/>
<circle cx="455.3" cy="301.6" r="0.8" fill="#000" stroke-width="0"/>
<circle cx="457.3" cy="243.0" r="2.3" fill="#000" stroke-width="0"/>
<circle cx="449.5" cy="241.7" r="0.8" fill="#000" stroke-width="0"/>
<circle cx="446.6" cy="277.2" r="1.7" fill="#000" stroke-width="0"/>
<circle cx="451.2" cy="203.8" r="1.2" fill="#000" stroke-width="0"/>
<circle cx="459.1" cy="378.3" r="0.8" fill="#000" stroke-width="0"/>
<circle cx="449.8" cy="376.5" r="1.0" fill="#000" stroke-width="0"/>
<circle cx="451.7" cy="427.8" r="1.0" fill="#000" stroke-width="0"/>
<circle cx="458.0" cy="409.4" r="1.7" fill="#000" stroke-width="0"/>
<circle cx="456.2" cy="424.1" r="0.8" fill="#000" stroke-width="0"/>
<circle cx="458.0" cy="320.2" r="1.2" fill="#000" stroke-width="0"/>
<circle cx="455.4" cy="284.0" r="1.7" fill="#000" stroke-width="0"/>
<circle cx="455.1" cy="275.8" r="2.3" fill="#000" stroke-width="0"/>
<circle cx="455.3" cy="315.2" r="1.7" fill="#000" stroke-width="0"/>
<circle cx="446.2" cy="372.7" r="2.0" fill="#000" stroke-width="0"/>
<circle cx="456.0" cy="294.2" r="0.8" fill="#000" stroke-width="0"/>
<circle cx="450.8" cy="324.1" r="0.8" fill="#000" stroke-width="0"/>
<circle cx="453.5" cy="302.1" r="0.8" fill="#000" stroke-width="0"/>
<circle cx="454.7" cy="420.2" r="1.0" fill="#000" stroke-width="0"/>
<circle cx="444.8" cy="510.7" r="1.7" fill="#000" stroke-width="0"/>
<circle cx="445.8" cy="719.0" r="0.8" fill="#000" stroke-width="0"/>
<circle cx="445.9" cy="692.8" r="0.8" fill="#000" stroke-width="0"/>
<circle cx="444.6" cy="667.2" r="1.2" fill="#000" stroke-width="0"/>
<circle cx="445.2" cy="711.1" r="0.8" fill="#000" stroke-width="0"/>
<circle cx="445.4" cy="661.5" r="0.8" fill="#000" stroke-width="0"/>
<circle cx="445.0" cy="612.5" r="1.2" fill="#000" stroke-width="0"/>
<circle cx="445.5" cy="694.1" r="1.2" fill="#000" stroke-width="0"/>
<circle cx="445.1" cy="442.4" r="1.0" fill="#000" stroke-width="0"/>
<circle cx="445.6" cy="497.2" r="0.8" fill="#000" stroke-width="0"/>
<circle cx="444.6" cy="535.7" r="2.0" fill="#000" stroke-width="0"/>
<circle cx="445.7" cy="647.1" r="1.0" fill="#000" stroke-width="0"/>
<circle cx="444.9" cy="612.0" r="0.8" fill="#000" stroke-width="0"/>
<circle cx="445.3" cy="705.4" r="1.2" fill="#000" stroke-width="0"/>
<rect x="433.1" y="440.0" width="3.7" height="1.7" fill="#000" stroke-width="0"/>
<rect x="432.5" y="448.4" width="5.5" height="1.6" fill="#000" stroke-width="0"/>
<rect x="433.5" y="461.8" width="2.9" height="1.8" fill="#000" stroke-width="0"/>
<rect x="434.0" y="473.0" width="2.9" height="2.1" fill="#000" stroke-width="0"/>
<rect x="433.1" y="483.4" width="4.3" height="1.9" fill="#000" stroke-width="0"/>
<rect x="434.4" y="496.9" width="2.1" height="1.5" fill="#000" stroke-width="0"/>
<rect x="433.4" y="507.7" width="4.4" height="2.1" fill="#000" stroke-width="0"/>
<rect x="435.2" y="517.6" width="2.4" height="2.7" fill="#000" stroke-width="0"/>
<rect x="432.6" y="525.8" width="4.6" height="1.8" fill="#000" stroke-width="0"/>
<rect x="432.1" y="540.6" width="2.1" height="2.4" fill="#000" stroke-width="0"/>
<rect x="432.0" y="554.5" width="6.0" height="2.8" fill="#000" stroke-width="0"/>
<rect x="432.2" y="568.1" width="2.6" height="1.8" fill="#000" stroke-width="0"/>
<rect x="433.4" y="580.2" width="3.9" height="1.6" fill="#000" stroke-width="0"/>
<rect x="435.1" y="589.5" width="2.1" height="2.2" fill="#000" stroke-width="0"/>
<rect x="432.2" y="598.9" width="4.2" height="1.6" fill="#000" stroke-width="0"/>
<rect x="433.1" y="615.7" width="4.6" height="2.9" fill="#000" stroke-width="0"/>
<rect x="432.8" y="627.9" width="4.3" height="2.7" fill="#000" stroke-width="0"/>
<rect x="434.9" y="640.0" width="2.4" height="1.5" fill="#000" stroke-width="0"/>
<rect x="433.0" y="656.4" width="4.8" height="2.9" fill="#000" stroke-width="0"/>
<rect x="432.1" y="670.0" width="5.9" height="2.8" fill="#000" stroke-width="0"/>
<rect x="433.3" y="681.3" width="2.6" height="2.0" fill="#000" stroke-width="0"/>
<rect x="432.1" y="696.5" width="5.5" height="2.1" fill="#000" stroke-width="0"/>
<rect x="432.1" y="709.1" width="5.9" height="1.6" fill="#000" stroke-width="0"/>
<rect x="432.1" y="725.9" width="4.3" height="1.9" fill="#000" stroke-width="0"/>
<rect x="432.6" y="739.5" width="4.0" height="2.0" fill="#000" stroke-width="0"/>
<rect x="432.8" y="749.0" width="4.4" height="3.0" fill="#000" stroke-width="0"/>
<circle cx="435.8" cy="390.0" r="1.3" fill="#000" stroke-width="0"/>
<circle cx="437.2" cy="400.2" r="1.3" fill="#000" stroke-width="0"/>
<circle cx="436.5" cy="412.9" r="1.3" fill="#000" stroke-width="0"/>
<circle cx="436.5" cy="426.7" r="1.6" fill="#000" stroke-width="0"/>
<circle cx="437.4" cy="438.0" r="1.9" fill="#000" stroke-width="0"/>
<circle cx="436.3" cy="451.7" r="1.3" fill="#000" stroke-width="0"/>
<circle cx="437.1" cy="460.4" r="1.3" fill="#000" stroke-width="0"/>
<circle cx="436.9" cy="472.5" r="1.3" fill="#000" stroke-width="0"/>
<circle cx="436.7" cy="481.6" r="1.6" fill="#000" stroke-width="0"/>
<circle cx="436.1" cy="489.3" r="1.9" fill="#000" stroke-width="0"/>
<circle cx="437.2" cy="500.8" r="1.3" fill="#000" stroke-width="0"/>
<circle cx="436.1" cy="510.6" r="1.3" fill="#000" stroke-width="0"/>
<circle cx="435.7" cy="519.4" r="1.6" fill="#000" stroke-width="0"/>
<circle cx="436.5" cy="528.7" r="1.9" fill="#000" stroke-width="0"/>
<circle cx="436.6" cy="542.6" r="1.3" fill="#000" stroke-width="0"/>
<circle cx="436.5" cy="553.6" r="1.3" fill="#000" stroke-width="0"/>
<circle cx="436.1" cy="563.4" r="1.9" fill="#000" stroke-width="0"/>
<circle cx="435.9" cy="574.6" r="1.3" fill="#000" stroke-width="0"/>
<circle cx="436.5" cy="584.6" r="1.6" fill="#000" stroke-width="0"/>
<circle cx="436.2" cy="596.1" r="1.3" fill="#000" stroke-width="0"/>
<circle cx="437.2" cy="603.5" r="1.3" fill="#000" stroke-width="0"/>
<circle cx="436.3" cy="611.6" r="1.6" fill="#000" stroke-width="0"/>
<circle cx="435.9" cy="621.4" r="1.3" fill="#000" stroke-width="0"/>
<circle cx="435.6" cy="633.4" r="1.6" fill="#000" stroke-width="0"/>
<circle cx="436.0" cy="643.8" r="1.9" fill="#000" stroke-width="0"/>
<circle cx="437.0" cy="654.5" r="1.6" fill="#000" stroke-width="0"/>
<circle cx="437.4" cy="664.3" r="1.3" fill="#000" stroke-width="0"/>
<circle cx="436.2" cy="676.1" r="1.3" fill="#000" stroke-width="0"/>
<circle cx="436.7" cy="685.7" r="1.6" fill="#000" stroke-width="0"/>
<circle cx="435.9" cy="698.6" r="1.9" fill="#000" stroke-width="0"/>
<circle cx="435.9" cy="706.0" r="1.3" fill="#000" stroke-width="0"/>
<circle cx="437.0" cy="716.6" r="1.3" fill="#000" stroke-width="0"/>
<circle cx="435.9" cy="729.6" r="1.9" fill="#000" stroke-width="0"/>
<circle cx="437.1" cy="738.5" r="1.6" fill="#000" stroke-width="0"/>
<circle cx="205.2" cy="445.0" r="1.2" fill="#000" stroke-width="0"/>
<circle cx="205.9" cy="456.6" r="1.2" fill="#000" stroke-width="0"/>
<circle cx="205.0" cy="469.1" r="1.5" fill="#000" stroke-width="0"/>
<circle cx="205.1" cy="481.1" r="1.2" fill="#000" stroke-width="0"/>
<circle cx="205.8" cy="497.2" r="1.2" fill="#000" stroke-width="0"/>
<circle cx="205.5" cy="515.2" r="1.5" fill="#000" stroke-width="0"/>
<circle cx="205.6" cy="529.8" r="1.5" fill="#000" stroke-width="0"/>
<circle cx="204.5" cy="544.6" r="1.8" fill="#000" stroke-width="0"/>
<circle cx="205.7" cy="560.3" r="1.2" fill="#000" stroke-width="0"/>
<circle cx="205.5" cy="576.7" r="1.5" fill="#000" stroke-width="0"/>
<circle cx="206.5" cy="591.9" r="1.2" fill="#000" stroke-width="0"/>
<circle cx="204.7" cy="602.4" r="1.8" fill="#000" stroke-width="0"/>
<circle cx="205.3" cy="618.2" r="1.5" fill="#000" stroke-width="0"/>
<circle cx="206.1" cy="633.3" r="1.5" fill="#000" stroke-width="0"/>
<circle cx="206.0" cy="645.2" r="1.2" fill="#000" stroke-width="0"/>
<circle cx="206.4" cy="661.7" r="1.5" fill="#000" stroke-width="0"/>
<circle cx="205.6" cy="676.7" r="1.2" fill="#000" stroke-width="0"/>
<circle cx="205.3" cy="692.0" r="1.8" fill="#000" stroke-width="0"/>
<circle cx="205.6" cy="709.6" r="1.2" fill="#000" stroke-width="0"/>
<circle cx="205.1" cy="719.5" r="1.2" fill="#000" stroke-width="0"/>
<circle cx="204.7" cy="736.0" r="1.5" fill="#000" stroke-width="0"/>
<circle cx="459.2" cy="177.0" r="2.2" fill="none" stroke-width="1.6"/>
<circle cx="461.3" cy="181.9" r="2.0" fill="#000" stroke-width="0"/>
<circle cx="449.7" cy="179.7" r="1.2" fill="#000" stroke-width="0"/>
<circle cx="459.2" cy="182.1" r="2.0" fill="#000" stroke-width="0"/>
<circle cx="458.5" cy="173.4" r="2.0" fill="#000" stroke-width="0"/>
<circle cx="457.5" cy="177.9" r="1.0" fill="#000" stroke-width="0"/>
<circle cx="458.3" cy="166.4" r="0.8" fill="#000" stroke-width="0"/>
<circle cx="474.1" cy="160.2" r="0.8" fill="#000" stroke-width="0"/>
<circle cx="461.1" cy="174.7" r="2.0" fill="#000" stroke-width="0"/>
<circle cx="463.0" cy="159.3" r="1.7" fill="#000" stroke-width="0"/>
<circle cx="469.8" cy="170.0" r="1.2" fill="#000" stroke-width="0"/>
<circle cx="458.3" cy="156.4" r="2.0" fill="#000" stroke-width="0"/>
<circle cx="449.4" cy="181.4" r="0.8" fill="#000" stroke-width="0"/>
<circle cx="458.0" cy="156.5" r="0.8" fill="#000" stroke-width="0"/>
<circle cx="470.1" cy="164.6" r="2.2" fill="none" stroke-width="1.6"/>
<circle cx="458.5" cy="156.9" r="2.2" fill="none" stroke-width="1.6"/>
<circle cx="456.0" cy="172.4" r="0.8" fill="#000" stroke-width="0"/>
<circle cx="455.5" cy="161.4" r="1.2" fill="#000" stroke-width="0"/>
<circle cx="451.3" cy="165.6" r="2.3" fill="#000" stroke-width="0"/>
<circle cx="465.0" cy="179.4" r="2.3" fill="#000" stroke-width="0"/>
<circle cx="438.8" cy="499.4" r="1.0" fill="#000" stroke-width="0"/>
<circle cx="437.5" cy="620.2" r="1.0" fill="#000" stroke-width="0"/>
<circle cx="438.7" cy="350.8" r="1.2" fill="#000" stroke-width="0"/>
<circle cx="438.0" cy="485.3" r="0.8" fill="#000" stroke-width="0"/>
<circle cx="438.3" cy="705.2" r="1.0" fill="#000" stroke-width="0"/>
<circle cx="438.3" cy="213.0" r="2.2" fill="none" stroke-width="1.6"/>
<circle cx="437.4" cy="225.9" r="2.3" fill="#000" stroke-width="0"/>
<circle cx="438.3" cy="739.5" r="1.2" fill="#000" stroke-width="0"/>
<circle cx="438.2" cy="406.4" r="0.8" fill="#000" stroke-width="0"/>
<circle cx="438.1" cy="356.1" r="0.8" fill="#000" stroke-width="0"/>
<circle cx="438.8" cy="158.0" r="2.3" fill="#000" stroke-width="0"/>
<circle cx="437.0" cy="273.8" r="0.8" fill="#000" stroke-width="0"/>
<circle cx="438.0" cy="500.3" r="1.2" fill="#000" stroke-width="0"/>
<circle cx="436.7" cy="609.2" r="0.8" fill="#000" stroke-width="0"/>
<circle cx="437.2" cy="742.3" r="0.8" fill="#000" stroke-width="0"/>
<circle cx="439.3" cy="560.0" r="1.2" fill="#000" stroke-width="0"/>
<circle cx="439.1" cy="549.2" r="1.0" fill="#000" stroke-width="0"/>
<circle cx="437.6" cy="344.7" r="0.8" fill="#000" stroke-width="0"/>
<circle cx="438.9" cy="457.9" r="1.2" fill="#000" stroke-width="0"/>
<circle cx="436.9" cy="677.9" r="0.8" fill="#000" stroke-width="0"/>
<circle cx="436.8" cy="415.3" r="1.0" fill="#000" stroke-width="0"/>
<circle cx="436.7" cy="553.6" r="1.2" fill="#000" stroke-width="0"/>
<circle cx="438.1" cy="295.5" r="1.7" fill="#000" stroke-width="0"/>
<circle cx="437.2" cy="180.1" r="1.2" fill="#000" stroke-width="0"/>
<circle cx="438.9" cy="551.2" r="1.2" fill="#000" stroke-width="0"/>
<circle cx="438.0" cy="409.4" r="1.2" fill="#000" stroke-width="0"/>
<circle cx="437.4" cy="695.7" r="2.2" fill="none" stroke-width="1.6"/>
<circle cx="438.7" cy="281.8" r="1.8" fill="none" stroke-width="1.6"/>
<circle cx="437.5" cy="315.1" r="1.2" fill="#000" stroke-width="0"/>
<circle cx="437.7" cy="236.7" r="0.8" fill="#000" stroke-width="0"/>
<circle cx="438.9" cy="716.8" r="0.8" fill="#000" stroke-width="0"/>
<circle cx="438.8" cy="284.6" r="1.2" fill="#000" stroke-width="0"/>
<circle cx="437.8" cy="367.1" r="1.0" fill="#000" stroke-width="0"/>
<circle cx="438.7" cy="215.1" r="1.2" fill="#000" stroke-width="0"/>
<circle cx="438.2" cy="486.3" r="1.2" fill="#000" stroke-width="0"/>
<circle cx="437.0" cy="196.2" r="0.8" fill="#000" stroke-width="0"/>
<circle cx="439.0" cy="703.8" r="0.8" fill="#000" stroke-width="0"/>
<circle cx="437.4" cy="748.4" r="0.8" fill="#000" stroke-width="0"/>
<circle cx="436.8" cy="715.9" r="1.8" fill="none" stroke-width="1.6"/>
<circle cx="437.8" cy="496.5" r="1.0" fill="#000" stroke-width="0"/>
<circle cx="436.7" cy="245.6" r="0.8" fill="#000" stroke-width="0"/>
<circle cx="437.7" cy="726.5" r="0.8" fill="#000" stroke-width="0"/>
<circle cx="437.9" cy="251.4" r="1.0" fill="#000" stroke-width="0"/>
<circle cx="439.4" cy="482.8" r="1.0" fill="#000" stroke-width="0"/>
<circle cx="438.5" cy="333.4" r="1.2" fill="#000" stroke-width="0"/>
<circle cx="438.3" cy="394.3" r="1.0" fill="#000" stroke-width="0"/>
<circle cx="437.0" cy="719.1" r="1.2" fill="#000" stroke-width="0"/>
<circle cx="438.0" cy="740.6" r="0.8" fill="#000" stroke-width="0"/>
<circle cx="438.2" cy="386.2" r="1.0" fill="#000" stroke-width="0"/>
<circle cx="437.1" cy="199.1" r="1.0" fill="#000" stroke-width="0"/>
<circle cx="437.9" cy="208.4" r="1.2" fill="#000" stroke-width="0"/>
<circle cx="438.6" cy="558.2" r="1.0" fill="#000" stroke-width="0"/>
<circle cx="437.1" cy="490.3" r="1.0" fill="#000" stroke-width="0"/>
<circle cx="438.6" cy="177.7" r="0.8" fill="#000" stroke-width="0"/>
<circle cx="437.1" cy="410.1" r="0.8" fill="#000" stroke-width="0"/>
<circle cx="436.9" cy="645.7" r="1.0" fill="#000" stroke-width="0"/>
<circle cx="436.8" cy="526.2" r="1.0" fill="#000" stroke-width="0"/>
<circle cx="438.2" cy="717.0" r="1.0" fill="#000" stroke-width="0"/>
<circle cx="436.6" cy="332.8" r="1.2" fill="#000" stroke-width="0"/>
<circle cx="437.4" cy="259.9" r="1.0" fill="#000" stroke-width="0"/>
<circle cx="439.2" cy="737.0" r="2.3" fill="#000" stroke-width="0"/>
<circle cx="437.0" cy="584.9" r="1.0" fill="#000" stroke-width="0"/>
<circle cx="439.2" cy="247.5" r="1.0" fill="#000" stroke-width="0"/>
<circle cx="438.9" cy="167.0" r="1.2" fill="#000" stroke-width="0"/>
<circle cx="438.6" cy="427.3" r="1.2" fill="#000" stroke-width="0"/>
<circle cx="438.6" cy="179.3" r="0.8" fill="#000" stroke-width="0"/>
<circle cx="437.0" cy="315.7" r="1.0" fill="#000" stroke-width="0"/>
<circle cx="436.7" cy="563.5" r="1.2" fill="#000" stroke-width="0"/>
<circle cx="438.5" cy="216.4" r="0.8" fill="#000" stroke-width="0"/>
<circle cx="437.7" cy="388.6" r="0.8" fill="#000" stroke-width="0"/>
<circle cx="438.3" cy="715.5" r="1.0" fill="#000" stroke-width="0"/>
<circle cx="436.9" cy="573.7" r="0.8" fill="#000" stroke-width="0"/>
<circle cx="438.0" cy="737.3" r="1.2" fill="#000" stroke-width="0"/>
<line x1="447.0" y1="723.0" x2="489.0" y2="750.0" stroke-width="2.2"/>
<circle cx="458.1" cy="738.0" r="1.7" fill="#000" stroke-width="0"/>
<circle cx="451.5" cy="742.2" r="1.2" fill="#000" stroke-width="0"/>
<circle cx="458.6" cy="745.8" r="2.3" fill="#000" stroke-width="0"/>
<circle cx="456.5" cy="736.9" r="1.8" fill="none" stroke-width="1.6"/>
<circle cx="463.0" cy="740.5" r="2.3" fill="#000" stroke-width="0"/>
<circle cx="453.4" cy="738.7" r="1.2" fill="#000" stroke-width="0"/>
<circle cx="469.0" cy="747.5" r="1.2" fill="#000" stroke-width="0"/>
<circle cx="457.1" cy="746.8" r="1.7" fill="#000" stroke-width="0"/>
<circle cx="457.7" cy="742.0" r="1.7" fill="#000" stroke-width="0"/>
<circle cx="451.1" cy="739.0" r="1.2" fill="#000" stroke-width="0"/>
<circle cx="450.6" cy="735.0" r="1.7" fill="#000" stroke-width="0"/>
<circle cx="479.5" cy="747.3" r="2.0" fill="#000" stroke-width="0"/>
<circle cx="459.4" cy="740.3" r="2.0" fill="#000" stroke-width="0"/>
<circle cx="467.8" cy="741.2" r="2.3" fill="#000" stroke-width="0"/>
<circle cx="462.5" cy="741.4" r="2.0" fill="#000" stroke-width="0"/>
<circle cx="456.2" cy="739.9" r="2.3" fill="#000" stroke-width="0"/>
<circle cx="458.7" cy="739.8" r="1.2" fill="#000" stroke-width="0"/>
<circle cx="463.0" cy="743.6" r="1.2" fill="#000" stroke-width="0"/>
<circle cx="461.7" cy="745.9" r="0.8" fill="#000" stroke-width="0"/>
<circle cx="455.8" cy="741.0" r="1.2" fill="#000" stroke-width="0"/>
<circle cx="461.1" cy="737.0" r="1.2" fill="#000" stroke-width="0"/>
<circle cx="457.9" cy="739.0" r="2.0" fill="#000" stroke-width="0"/>
<circle cx="459.8" cy="747.2" r="2.0" fill="#000" stroke-width="0"/>
<circle cx="453.2" cy="739.9" r="2.3" fill="#000" stroke-width="0"/>
<circle cx="454.1" cy="734.4" r="1.2" fill="#000" stroke-width="0"/>
<circle cx="457.9" cy="734.2" r="1.7" fill="#000" stroke-width="0"/>
<circle cx="462.6" cy="744.1" r="2.3" fill="#000" stroke-width="0"/>
<circle cx="457.5" cy="737.2" r="1.7" fill="#000" stroke-width="0"/>
<polygon points="430.0,748.5 520.0,749.0 533.5,751.0 520.0,753.0 430.0,753.5" fill="none" stroke-width="1.4"/>
<line x1="447.0" y1="757.0" x2="493.0" y2="757.0" stroke-width="2"/>
<line x1="446.5" y1="757.0" x2="446.5" y2="1076.0" stroke-width="2.3"/>
<polyline points="479.5,718.7 473.0,721.0 468.0,729.0" stroke-width="1.8"/>
<polygon points="465.0,734.0 466.7,724.7 472.0,727.6" fill="#000" stroke-width="0"/>
<line x1="497.0" y1="769.0" x2="497.0" y2="798.0" stroke-width="2"/>
<line x1="459.0" y1="785.0" x2="451.5" y2="785.0" stroke-width="1.6"/>
<polygon points="447.0,785.0 456.0,781.5 456.0,788.5" fill="#000" stroke-width="0"/>
<line x1="483.0" y1="785.0" x2="492.0" y2="785.0" stroke-width="1.6"/>
<polygon points="497.0,785.0 487.0,789.0 487.0,781.0" fill="#000" stroke-width="0"/>
<line x1="458.0" y1="759.0" x2="470.0" y2="770.0" stroke-width="1.5"/>
<line x1="464.0" y1="759.0" x2="476.0" y2="770.0" stroke-width="1.5"/>
<line x1="470.0" y1="759.0" x2="482.0" y2="770.0" stroke-width="1.5"/>
<line x1="476.0" y1="759.0" x2="488.0" y2="770.0" stroke-width="1.5"/>
<line x1="490.0" y1="759.0" x2="478.0" y2="772.0" stroke-width="1.5"/>
<line x1="430.6" y1="751.0" x2="426.8" y2="1399.0" stroke-width="2.3"/>
<line x1="437.2" y1="751.0" x2="437.2" y2="1126.0" stroke-width="1.4"/>
<line x1="439.5" y1="751.0" x2="439.5" y2="1126.0" stroke-width="1.4"/>
<circle cx="206.0" cy="849.3" r="1.2" fill="#000" stroke-width="0"/>
<circle cx="206.2" cy="978.7" r="0.8" fill="#000" stroke-width="0"/>
<circle cx="206.7" cy="846.2" r="2.0" fill="#000" stroke-width="0"/>
<circle cx="203.3" cy="827.6" r="1.7" fill="#000" stroke-width="0"/>
<circle cx="205.9" cy="1049.2" r="2.0" fill="#000" stroke-width="0"/>
<circle cx="203.1" cy="814.8" r="1.7" fill="#000" stroke-width="0"/>
<circle cx="204.8" cy="948.7" r="1.0" fill="#000" stroke-width="0"/>
<circle cx="204.2" cy="829.5" r="1.7" fill="#000" stroke-width="0"/>
<circle cx="206.6" cy="972.7" r="1.8" fill="none" stroke-width="1.6"/>
<circle cx="204.1" cy="1069.2" r="2.0" fill="#000" stroke-width="0"/>
<circle cx="203.1" cy="843.4" r="2.3" fill="#000" stroke-width="0"/>
<circle cx="206.1" cy="774.0" r="1.7" fill="#000" stroke-width="0"/>
<circle cx="205.4" cy="869.8" r="0.8" fill="#000" stroke-width="0"/>
<circle cx="204.5" cy="811.7" r="0.8" fill="#000" stroke-width="0"/>
<circle cx="205.1" cy="855.9" r="2.3" fill="#000" stroke-width="0"/>
<circle cx="206.8" cy="897.8" r="1.7" fill="#000" stroke-width="0"/>
<circle cx="204.5" cy="880.6" r="2.0" fill="#000" stroke-width="0"/>
<circle cx="204.7" cy="939.4" r="1.8" fill="none" stroke-width="1.6"/>
<circle cx="203.7" cy="850.9" r="1.2" fill="#000" stroke-width="0"/>
<circle cx="206.8" cy="953.7" r="0.8" fill="#000" stroke-width="0"/>
<circle cx="204.2" cy="1049.5" r="2.0" fill="#000" stroke-width="0"/>
<circle cx="206.2" cy="993.0" r="1.0" fill="#000" stroke-width="0"/>
<circle cx="205.0" cy="828.8" r="2.3" fill="#000" stroke-width="0"/>
<circle cx="205.1" cy="855.2" r="2.3" fill="#000" stroke-width="0"/>
<circle cx="204.1" cy="1059.8" r="1.7" fill="#000" stroke-width="0"/>
<circle cx="204.3" cy="959.7" r="1.2" fill="#000" stroke-width="0"/>
<circle cx="205.5" cy="930.3" r="1.2" fill="#000" stroke-width="0"/>
<circle cx="203.0" cy="904.1" r="2.2" fill="none" stroke-width="1.6"/>
<circle cx="203.3" cy="898.7" r="2.0" fill="#000" stroke-width="0"/>
<circle cx="205.7" cy="760.9" r="1.7" fill="#000" stroke-width="0"/>
<circle cx="205.6" cy="834.0" r="0.8" fill="#000" stroke-width="0"/>
<circle cx="203.6" cy="1015.2" r="1.7" fill="#000" stroke-width="0"/>
<circle cx="206.8" cy="801.5" r="0.8" fill="#000" stroke-width="0"/>
<circle cx="206.4" cy="1038.0" r="2.0" fill="#000" stroke-width="0"/>
<circle cx="206.8" cy="1042.7" r="2.0" fill="#000" stroke-width="0"/>
<circle cx="205.8" cy="952.0" r="1.8" fill="none" stroke-width="1.6"/>
<circle cx="204.3" cy="962.4" r="1.2" fill="#000" stroke-width="0"/>
<circle cx="203.7" cy="1047.9" r="1.7" fill="#000" stroke-width="0"/>
<circle cx="203.5" cy="977.3" r="1.2" fill="#000" stroke-width="0"/>
<circle cx="206.2" cy="1067.6" r="2.3" fill="#000" stroke-width="0"/>
<circle cx="206.1" cy="1053.4" r="0.8" fill="#000" stroke-width="0"/>
<circle cx="204.3" cy="925.3" r="0.8" fill="#000" stroke-width="0"/>
<circle cx="204.2" cy="950.1" r="2.0" fill="#000" stroke-width="0"/>
<circle cx="205.0" cy="915.4" r="2.3" fill="#000" stroke-width="0"/>
<circle cx="205.8" cy="899.2" r="0.8" fill="#000" stroke-width="0"/>
<circle cx="204.8" cy="1024.5" r="2.3" fill="#000" stroke-width="0"/>
<circle cx="205.7" cy="1041.1" r="1.2" fill="#000" stroke-width="0"/>
<circle cx="204.3" cy="784.4" r="1.0" fill="#000" stroke-width="0"/>
<circle cx="205.6" cy="1047.5" r="0.8" fill="#000" stroke-width="0"/>
<circle cx="203.4" cy="814.0" r="1.0" fill="#000" stroke-width="0"/>
<circle cx="203.2" cy="960.0" r="0.8" fill="#000" stroke-width="0"/>
<circle cx="207.0" cy="1007.9" r="1.0" fill="#000" stroke-width="0"/>
<circle cx="205.4" cy="918.0" r="1.0" fill="#000" stroke-width="0"/>
<circle cx="203.8" cy="1070.1" r="1.0" fill="#000" stroke-width="0"/>
<circle cx="206.7" cy="1027.0" r="1.0" fill="#000" stroke-width="0"/>
<circle cx="204.3" cy="981.5" r="1.2" fill="#000" stroke-width="0"/>
<circle cx="203.6" cy="851.1" r="0.8" fill="#000" stroke-width="0"/>
<circle cx="216.2" cy="1050.1" r="1.0" fill="#000" stroke-width="0"/>
<circle cx="213.5" cy="933.7" r="1.0" fill="#000" stroke-width="0"/>
<circle cx="215.6" cy="1060.9" r="2.3" fill="#000" stroke-width="0"/>
<circle cx="213.4" cy="910.2" r="1.2" fill="#000" stroke-width="0"/>
<circle cx="215.4" cy="798.7" r="1.7" fill="#000" stroke-width="0"/>
<circle cx="214.6" cy="940.5" r="1.2" fill="#000" stroke-width="0"/>
<circle cx="214.3" cy="841.9" r="1.7" fill="#000" stroke-width="0"/>
<circle cx="213.6" cy="872.9" r="1.7" fill="#000" stroke-width="0"/>
<circle cx="215.3" cy="840.3" r="1.2" fill="#000" stroke-width="0"/>
<circle cx="214.0" cy="844.2" r="1.8" fill="none" stroke-width="1.6"/>
<circle cx="213.4" cy="909.6" r="2.0" fill="#000" stroke-width="0"/>
<circle cx="213.9" cy="883.0" r="1.2" fill="#000" stroke-width="0"/>
<circle cx="216.7" cy="927.7" r="2.3" fill="#000" stroke-width="0"/>
<circle cx="215.7" cy="808.4" r="1.0" fill="#000" stroke-width="0"/>
<circle cx="213.2" cy="970.4" r="1.2" fill="#000" stroke-width="0"/>
<circle cx="216.9" cy="973.8" r="1.0" fill="#000" stroke-width="0"/>
<circle cx="215.9" cy="907.9" r="1.2" fill="#000" stroke-width="0"/>
<circle cx="215.2" cy="797.6" r="2.0" fill="#000" stroke-width="0"/>
<circle cx="215.9" cy="874.7" r="1.2" fill="#000" stroke-width="0"/>
<circle cx="215.5" cy="1030.6" r="2.0" fill="#000" stroke-width="0"/>
<circle cx="213.7" cy="1002.5" r="2.0" fill="#000" stroke-width="0"/>
<circle cx="213.3" cy="896.9" r="2.0" fill="#000" stroke-width="0"/>
<circle cx="215.6" cy="918.5" r="0.8" fill="#000" stroke-width="0"/>
<circle cx="215.2" cy="870.9" r="0.8" fill="#000" stroke-width="0"/>
<circle cx="213.7" cy="901.5" r="1.0" fill="#000" stroke-width="0"/>
<circle cx="214.4" cy="1048.8" r="1.0" fill="#000" stroke-width="0"/>
<circle cx="216.1" cy="1028.0" r="0.8" fill="#000" stroke-width="0"/>
<circle cx="214.5" cy="947.9" r="2.0" fill="#000" stroke-width="0"/>
<circle cx="215.9" cy="855.5" r="0.8" fill="#000" stroke-width="0"/>
<circle cx="216.4" cy="758.0" r="0.8" fill="#000" stroke-width="0"/>
<circle cx="213.3" cy="898.3" r="1.7" fill="#000" stroke-width="0"/>
<circle cx="213.7" cy="772.4" r="2.0" fill="#000" stroke-width="0"/>
<circle cx="216.7" cy="791.6" r="1.2" fill="#000" stroke-width="0"/>
<circle cx="214.0" cy="884.3" r="1.8" fill="none" stroke-width="1.6"/>
<circle cx="217.0" cy="1045.9" r="1.0" fill="#000" stroke-width="0"/>
<circle cx="213.8" cy="1047.6" r="1.2" fill="#000" stroke-width="0"/>
<circle cx="213.1" cy="776.2" r="0.8" fill="#000" stroke-width="0"/>
<circle cx="216.9" cy="832.6" r="2.3" fill="#000" stroke-width="0"/>
<rect x="431.2" y="757.0" width="5.8" height="1.9" fill="#000" stroke-width="0"/>
<rect x="431.5" y="764.3" width="3.3" height="2.6" fill="#000" stroke-width="0"/>
<rect x="432.1" y="772.7" width="3.3" height="2.5" fill="#000" stroke-width="0"/>
<rect x="431.3" y="781.0" width="3.9" height="1.6" fill="#000" stroke-width="0"/>
<rect x="431.3" y="786.2" width="5.3" height="2.5" fill="#000" stroke-width="0"/>
<rect x="431.4" y="792.4" width="3.5" height="3.0" fill="#000" stroke-width="0"/>
<rect x="433.4" y="800.0" width="2.5" height="2.4" fill="#000" stroke-width="0"/>
<rect x="431.6" y="807.6" width="5.1" height="2.8" fill="#000" stroke-width="0"/>
<rect x="432.5" y="817.3" width="3.6" height="2.1" fill="#000" stroke-width="0"/>
<rect x="432.6" y="823.8" width="3.5" height="2.0" fill="#000" stroke-width="0"/>
<rect x="431.5" y="829.9" width="5.4" height="2.5" fill="#000" stroke-width="0"/>
<rect x="432.6" y="838.9" width="3.5" height="1.9" fill="#000" stroke-width="0"/>
<rect x="433.9" y="844.8" width="2.4" height="2.9" fill="#000" stroke-width="0"/>
<rect x="431.3" y="850.7" width="3.5" height="1.7" fill="#000" stroke-width="0"/>
<rect x="431.0" y="858.5" width="5.6" height="1.9" fill="#000" stroke-width="0"/>
<rect x="433.7" y="866.9" width="2.9" height="2.0" fill="#000" stroke-width="0"/>
<rect x="431.9" y="873.8" width="2.8" height="2.1" fill="#000" stroke-width="0"/>
<rect x="431.0" y="879.6" width="4.9" height="2.5" fill="#000" stroke-width="0"/>
<rect x="431.5" y="888.2" width="3.3" height="1.7" fill="#000" stroke-width="0"/>
<rect x="431.5" y="892.9" width="5.2" height="1.5" fill="#000" stroke-width="0"/>
<rect x="431.5" y="899.6" width="4.4" height="1.6" fill="#000" stroke-width="0"/>
<rect x="433.5" y="906.2" width="3.4" height="2.0" fill="#000" stroke-width="0"/>
<rect x="431.3" y="915.5" width="5.5" height="1.7" fill="#000" stroke-width="0"/>
<rect x="433.0" y="924.3" width="2.4" height="1.6" fill="#000" stroke-width="0"/>
<rect x="431.4" y="929.0" width="3.6" height="3.0" fill="#000" stroke-width="0"/>
<rect x="431.4" y="936.4" width="5.6" height="2.6" fill="#000" stroke-width="0"/>
<circle cx="433.8" cy="1044.2" r="1.7" fill="#000" stroke-width="0"/>
<circle cx="434.1" cy="1056.8" r="2.3" fill="#000" stroke-width="0"/>
<circle cx="435.3" cy="1032.3" r="2.0" fill="#000" stroke-width="0"/>
<circle cx="433.6" cy="1002.4" r="2.0" fill="#000" stroke-width="0"/>
<circle cx="434.8" cy="1021.7" r="1.0" fill="#000" stroke-width="0"/>
<circle cx="434.3" cy="952.5" r="1.8" fill="none" stroke-width="1.6"/>
<circle cx="433.1" cy="1026.8" r="2.3" fill="#000" stroke-width="0"/>
<circle cx="432.1" cy="984.0" r="2.0" fill="#000" stroke-width="0"/>
<circle cx="433.8" cy="974.5" r="1.7" fill="#000" stroke-width="0"/>
<circle cx="434.3" cy="1019.9" r="2.3" fill="#000" stroke-width="0"/>
<circle cx="433.3" cy="961.3" r="2.0" fill="#000" stroke-width="0"/>
<circle cx="432.1" cy="1041.3" r="2.3" fill="#000" stroke-width="0"/>
<circle cx="432.3" cy="956.1" r="0.8" fill="#000" stroke-width="0"/>
<circle cx="432.7" cy="1053.5" r="2.0" fill="#000" stroke-width="0"/>
<circle cx="433.6" cy="1001.2" r="2.0" fill="#000" stroke-width="0"/>
<circle cx="435.8" cy="1007.8" r="2.2" fill="none" stroke-width="1.6"/>
<circle cx="434.4" cy="1064.4" r="2.0" fill="#000" stroke-width="0"/>
<circle cx="435.0" cy="970.1" r="1.7" fill="#000" stroke-width="0"/>
<circle cx="432.9" cy="989.4" r="1.7" fill="#000" stroke-width="0"/>
<circle cx="434.7" cy="985.1" r="1.0" fill="#000" stroke-width="0"/>
<circle cx="432.4" cy="1037.0" r="1.7" fill="#000" stroke-width="0"/>
<circle cx="432.2" cy="990.7" r="1.7" fill="#000" stroke-width="0"/>
<circle cx="435.4" cy="980.6" r="2.0" fill="#000" stroke-width="0"/>
<circle cx="433.1" cy="1011.1" r="1.0" fill="#000" stroke-width="0"/>
<circle cx="432.2" cy="1047.8" r="1.0" fill="#000" stroke-width="0"/>
<circle cx="434.5" cy="982.7" r="1.0" fill="#000" stroke-width="0"/>
<circle cx="432.8" cy="996.1" r="2.2" fill="none" stroke-width="1.6"/>
<circle cx="435.4" cy="985.6" r="0.8" fill="#000" stroke-width="0"/>
<circle cx="435.6" cy="981.2" r="1.0" fill="#000" stroke-width="0"/>
<circle cx="433.4" cy="1015.7" r="0.8" fill="#000" stroke-width="0"/>
<circle cx="433.7" cy="946.1" r="2.0" fill="#000" stroke-width="0"/>
<circle cx="435.8" cy="1019.7" r="1.7" fill="#000" stroke-width="0"/>
<circle cx="442.2" cy="898.6" r="1.7" fill="#000" stroke-width="0"/>
<circle cx="442.5" cy="885.2" r="2.3" fill="#000" stroke-width="0"/>
<circle cx="443.0" cy="866.7" r="2.3" fill="#000" stroke-width="0"/>
<circle cx="442.3" cy="1066.0" r="2.3" fill="#000" stroke-width="0"/>
<circle cx="445.0" cy="1020.6" r="2.3" fill="#000" stroke-width="0"/>
<circle cx="442.9" cy="876.7" r="1.8" fill="none" stroke-width="1.6"/>
<circle cx="444.9" cy="894.6" r="1.2" fill="#000" stroke-width="0"/>
<circle cx="442.3" cy="978.0" r="1.7" fill="#000" stroke-width="0"/>
<circle cx="442.5" cy="904.3" r="1.8" fill="none" stroke-width="1.6"/>
<circle cx="442.0" cy="790.3" r="2.0" fill="#000" stroke-width="0"/>
<circle cx="441.6" cy="971.5" r="1.0" fill="#000" stroke-width="0"/>
<circle cx="442.3" cy="921.3" r="1.7" fill="#000" stroke-width="0"/>
<circle cx="443.6" cy="1056.9" r="1.8" fill="none" stroke-width="1.6"/>
<circle cx="444.2" cy="820.2" r="2.2" fill="none" stroke-width="1.6"/>
<circle cx="443.6" cy="868.5" r="2.2" fill="none" stroke-width="1.6"/>
<circle cx="443.9" cy="798.3" r="1.8" fill="none" stroke-width="1.6"/>
<circle cx="444.0" cy="788.8" r="0.8" fill="#000" stroke-width="0"/>
<circle cx="442.8" cy="995.2" r="2.3" fill="#000" stroke-width="0"/>
<circle cx="444.6" cy="1061.9" r="2.3" fill="#000" stroke-width="0"/>
<circle cx="441.9" cy="960.9" r="0.8" fill="#000" stroke-width="0"/>
<circle cx="441.0" cy="994.4" r="0.8" fill="#000" stroke-width="0"/>
<circle cx="443.4" cy="780.7" r="2.3" fill="#000" stroke-width="0"/>
<circle cx="442.9" cy="1042.1" r="2.2" fill="none" stroke-width="1.6"/>
<circle cx="441.9" cy="895.8" r="0.8" fill="#000" stroke-width="0"/>
<circle cx="444.6" cy="877.8" r="2.0" fill="#000" stroke-width="0"/>
<circle cx="442.8" cy="822.4" r="1.2" fill="#000" stroke-width="0"/>
<circle cx="444.9" cy="985.4" r="1.0" fill="#000" stroke-width="0"/>
<circle cx="444.9" cy="945.5" r="0.8" fill="#000" stroke-width="0"/>
<circle cx="444.0" cy="982.3" r="1.0" fill="#000" stroke-width="0"/>
<circle cx="443.7" cy="870.0" r="0.8" fill="#000" stroke-width="0"/>
<circle cx="442.1" cy="1072.5" r="2.3" fill="#000" stroke-width="0"/>
<circle cx="443.6" cy="1014.8" r="2.2" fill="none" stroke-width="1.6"/>
<circle cx="442.8" cy="761.7" r="2.3" fill="#000" stroke-width="0"/>
<circle cx="441.0" cy="1024.0" r="0.8" fill="#000" stroke-width="0"/>
<circle cx="443.7" cy="1071.3" r="1.7" fill="#000" stroke-width="0"/>
<circle cx="444.6" cy="1073.1" r="1.2" fill="#000" stroke-width="0"/>
<circle cx="442.4" cy="760.6" r="1.0" fill="#000" stroke-width="0"/>
<circle cx="441.9" cy="777.6" r="2.3" fill="#000" stroke-width="0"/>
<circle cx="441.8" cy="883.0" r="1.2" fill="#000" stroke-width="0"/>
<circle cx="443.1" cy="870.9" r="1.2" fill="#000" stroke-width="0"/>
<circle cx="443.2" cy="829.2" r="1.0" fill="#000" stroke-width="0"/>
<circle cx="442.5" cy="976.5" r="1.2" fill="#000" stroke-width="0"/>
<circle cx="443.7" cy="979.6" r="1.0" fill="#000" stroke-width="0"/>
<circle cx="442.1" cy="847.8" r="2.3" fill="#000" stroke-width="0"/>
<circle cx="441.9" cy="877.4" r="0.8" fill="#000" stroke-width="0"/>
<circle cx="444.5" cy="1024.9" r="1.8" fill="none" stroke-width="1.6"/>
<circle cx="445.0" cy="791.6" r="1.0" fill="#000" stroke-width="0"/>
<circle cx="443.1" cy="842.7" r="2.2" fill="none" stroke-width="1.6"/>
<circle cx="444.9" cy="991.4" r="0.8" fill="#000" stroke-width="0"/>
<circle cx="441.3" cy="853.5" r="2.0" fill="#000" stroke-width="0"/>
<circle cx="443.4" cy="823.7" r="2.3" fill="#000" stroke-width="0"/>
<circle cx="441.5" cy="1019.9" r="1.2" fill="#000" stroke-width="0"/>
<circle cx="444.9" cy="910.8" r="2.3" fill="#000" stroke-width="0"/>
<circle cx="444.8" cy="776.4" r="2.3" fill="#000" stroke-width="0"/>
<circle cx="443.0" cy="899.4" r="1.2" fill="#000" stroke-width="0"/>
<circle cx="441.6" cy="964.2" r="1.0" fill="#000" stroke-width="0"/>
<circle cx="444.1" cy="794.2" r="2.3" fill="#000" stroke-width="0"/>
<line x1="182.0" y1="807.0" x2="201.0" y2="825.0" stroke-width="1.5"/>
<line x1="182.0" y1="816.0" x2="201.0" y2="834.0" stroke-width="1.5"/>
<line x1="182.0" y1="825.0" x2="201.0" y2="843.0" stroke-width="1.5"/>
<line x1="201.0" y1="834.0" x2="182.0" y2="852.1" stroke-width="1.5"/>
<line x1="201.0" y1="843.0" x2="182.0" y2="861.1" stroke-width="1.5"/>
<line x1="201.0" y1="852.0" x2="182.0" y2="870.1" stroke-width="1.5"/>
<line x1="182.0" y1="897.0" x2="201.0" y2="915.0" stroke-width="1.5"/>
<line x1="182.0" y1="907.0" x2="201.0" y2="925.0" stroke-width="1.5"/>
<line x1="182.0" y1="917.0" x2="201.0" y2="935.0" stroke-width="1.5"/>
<line x1="201.0" y1="926.0" x2="182.0" y2="944.1" stroke-width="1.5"/>
<line x1="201.0" y1="936.0" x2="182.0" y2="954.1" stroke-width="1.5"/>
<line x1="201.0" y1="946.0" x2="182.0" y2="964.1" stroke-width="1.5"/>
<line x1="171.0" y1="994.0" x2="201.0" y2="1022.0" stroke-width="1.5"/>
<line x1="179.0" y1="992.0" x2="201.0" y2="1012.0" stroke-width="1.5"/>
<line x1="190.7" y1="992.0" x2="201.0" y2="1003.0" stroke-width="1.5"/>
<line x1="171.0" y1="1048.0" x2="201.0" y2="1073.0" stroke-width="1.5"/>
<line x1="180.0" y1="1036.0" x2="201.0" y2="1059.0" stroke-width="1.5"/>
<line x1="176.0" y1="1043.0" x2="201.0" y2="1067.0" stroke-width="1.5"/>
<line x1="446.0" y1="800.0" x2="461.0" y2="814.0" stroke-width="1.5"/>
<line x1="446.0" y1="806.0" x2="461.0" y2="821.5" stroke-width="1.5"/>
<line x1="446.0" y1="814.0" x2="461.0" y2="829.0" stroke-width="1.5"/>
<line x1="446.0" y1="835.0" x2="458.5" y2="823.0" stroke-width="1.5"/>
<line x1="446.0" y1="846.7" x2="459.6" y2="834.7" stroke-width="1.5"/>
<line x1="446.0" y1="877.0" x2="458.5" y2="889.5" stroke-width="1.5"/>
<line x1="446.0" y1="884.0" x2="457.0" y2="894.0" stroke-width="1.5"/>
<line x1="446.0" y1="910.0" x2="456.3" y2="896.0" stroke-width="1.5"/>
<line x1="446.0" y1="918.0" x2="457.0" y2="905.0" stroke-width="1.5"/>
<line x1="446.0" y1="928.0" x2="460.0" y2="945.0" stroke-width="1.5"/>
<line x1="446.0" y1="936.0" x2="461.0" y2="953.0" stroke-width="1.5"/>
<line x1="446.0" y1="944.0" x2="460.0" y2="963.0" stroke-width="1.5"/>
<line x1="447.0" y1="955.0" x2="458.0" y2="944.0" stroke-width="1.5"/>
<line x1="447.0" y1="962.0" x2="460.0" y2="951.0" stroke-width="1.5"/>
<line x1="446.0" y1="985.0" x2="465.0" y2="1018.0" stroke-width="1.5"/>
<line x1="446.0" y1="993.0" x2="463.0" y2="1022.0" stroke-width="1.5"/>
<line x1="446.0" y1="1001.0" x2="460.0" y2="1024.0" stroke-width="1.5"/>
<line x1="446.0" y1="990.0" x2="462.0" y2="975.0" stroke-width="1.5"/>
<line x1="446.0" y1="996.0" x2="470.0" y2="977.0" stroke-width="1.5"/>
<line x1="446.0" y1="1062.0" x2="476.0" y2="1038.5" stroke-width="1.5"/>
<line x1="446.0" y1="1068.0" x2="474.0" y2="1045.0" stroke-width="1.5"/>
<line x1="446.0" y1="1074.0" x2="470.0" y2="1052.0" stroke-width="1.5"/>
<line x1="446.0" y1="1048.5" x2="467.0" y2="1077.0" stroke-width="1.5"/>
<line x1="446.0" y1="1055.0" x2="462.0" y2="1077.0" stroke-width="1.5"/>
<line x1="184.0" y1="889.5" x2="211.0" y2="889.5" stroke-width="1.4"/>
<line x1="184.0" y1="892.0" x2="211.0" y2="892.0" stroke-width="1.4"/>
<polygon points="182.0,890.7 188.0,888.7 188.0,892.7" fill="#000" stroke-width="0"/>
<line x1="446.0" y1="890.5" x2="463.0" y2="890.5" stroke-width="1.4"/>
<line x1="446.0" y1="893.0" x2="463.0" y2="893.0" stroke-width="1.4"/>
<line x1="225.6" y1="762.0" x2="222.8" y2="1397.0" stroke-width="1.8"/>
<line x1="229.8" y1="762.0" x2="227.0" y2="1397.0" stroke-width="1.8"/>
<line x1="225.6" y1="762.0" x2="229.8" y2="762.0" stroke-width="1.5"/>
<rect x="225.6" y="762" width="4.2" height="20" fill="#000" stroke-width="0"/>
<line x1="416.0" y1="762.0" x2="415.4" y2="1397.0" stroke-width="1.8"/>
<line x1="420.2" y1="762.0" x2="419.6" y2="1397.0" stroke-width="1.8"/>
<line x1="416.0" y1="762.0" x2="420.2" y2="762.0" stroke-width="1.5"/>
<rect x="416" y="762" width="4.2" height="20" fill="#000" stroke-width="0"/>
<line x1="237.3" y1="866.0" x2="234.2" y2="1397.0" stroke-width="1.8"/>
<line x1="410.0" y1="866.0" x2="408.5" y2="1397.0" stroke-width="1.8"/>
<line x1="202.0" y1="866.0" x2="446.0" y2="866.0" stroke-width="1.4"/>
<line x1="213.0" y1="976.0" x2="446.0" y2="976.0" stroke-width="1.8"/>
<line x1="216.0" y1="1077.0" x2="430.0" y2="1077.0" stroke-width="1.7"/>
<line x1="216.0" y1="1080.3" x2="430.0" y2="1080.3" stroke-width="1.7"/>
<line x1="237.0" y1="1186.0" x2="409.0" y2="1186.0" stroke-width="1.6"/>
<line x1="237.0" y1="1290.0" x2="409.0" y2="1290.0" stroke-width="1.6"/>
<line x1="214.0" y1="1397.5" x2="427.0" y2="1397.5" stroke-width="2.2"/>
<polyline points="201.0,1074.0 118.0,1133.0" stroke-width="2"/>
<polygon points="109.5,1138.0 216.0,1138.0 216.0,1146.0 109.5,1146.0" fill="none" stroke-width="2"/>
<polygon points="62.0,1134.5 78.0,1132.5 198.0,1132.5 198.0,1136.8 80.0,1136.8" fill="none" stroke-width="1.5"/>
<path d="M207,1120 Q207,1135 196,1135" stroke-width="2.5" fill="none"/>
<circle cx="155.2" cy="1116.3" r="1.7" fill="#000" stroke-width="0"/>
<circle cx="195.6" cy="1095.6" r="2.0" fill="#000" stroke-width="0"/>
<circle cx="137.4" cy="1127.5" r="0.8" fill="#000" stroke-width="0"/>
<circle cx="172.0" cy="1110.8" r="2.2" fill="none" stroke-width="1.6"/>
<circle cx="194.9" cy="1093.2" r="1.0" fill="#000" stroke-width="0"/>
<circle cx="171.8" cy="1125.0" r="1.2" fill="#000" stroke-width="0"/>
<circle cx="192.3" cy="1121.2" r="1.0" fill="#000" stroke-width="0"/>
<circle cx="197.8" cy="1127.7" r="1.7" fill="#000" stroke-width="0"/>
<circle cx="189.7" cy="1123.6" r="0.8" fill="#000" stroke-width="0"/>
<circle cx="194.8" cy="1095.8" r="1.0" fill="#000" stroke-width="0"/>
<circle cx="140.3" cy="1123.8" r="1.0" fill="#000" stroke-width="0"/>
<circle cx="157.5" cy="1121.2" r="0.8" fill="#000" stroke-width="0"/>
<circle cx="167.1" cy="1106.0" r="1.7" fill="#000" stroke-width="0"/>
<circle cx="130.3" cy="1128.4" r="2.3" fill="#000" stroke-width="0"/>
<circle cx="200.1" cy="1087.7" r="0.8" fill="#000" stroke-width="0"/>
<circle cx="192.0" cy="1122.6" r="2.3" fill="#000" stroke-width="0"/>
<circle cx="170.8" cy="1108.8" r="2.0" fill="#000" stroke-width="0"/>
<circle cx="193.7" cy="1114.2" r="2.0" fill="#000" stroke-width="0"/>
<circle cx="195.4" cy="1086.5" r="2.3" fill="#000" stroke-width="0"/>
<circle cx="188.5" cy="1088.1" r="0.8" fill="#000" stroke-width="0"/>
<circle cx="143.3" cy="1119.1" r="2.2" fill="none" stroke-width="1.6"/>
<circle cx="184.3" cy="1125.4" r="2.2" fill="none" stroke-width="1.6"/>
<circle cx="168.5" cy="1110.7" r="2.3" fill="#000" stroke-width="0"/>
<circle cx="189.5" cy="1117.4" r="2.0" fill="#000" stroke-width="0"/>
<circle cx="162.9" cy="1120.6" r="1.8" fill="none" stroke-width="1.6"/>
<circle cx="171.8" cy="1124.5" r="1.7" fill="#000" stroke-width="0"/>
<circle cx="189.8" cy="1127.3" r="2.3" fill="#000" stroke-width="0"/>
<circle cx="168.5" cy="1106.5" r="1.0" fill="#000" stroke-width="0"/>
<circle cx="156.7" cy="1123.3" r="1.8" fill="none" stroke-width="1.6"/>
<circle cx="199.1" cy="1087.6" r="0.8" fill="#000" stroke-width="0"/>
<circle cx="190.4" cy="1098.4" r="2.0" fill="#000" stroke-width="0"/>
<circle cx="172.2" cy="1127.1" r="2.0" fill="#000" stroke-width="0"/>
<circle cx="181.9" cy="1107.5" r="0.8" fill="#000" stroke-width="0"/>
<circle cx="141.9" cy="1124.7" r="2.3" fill="#000" stroke-width="0"/>
<circle cx="149.4" cy="1129.4" r="2.0" fill="#000" stroke-width="0"/>
<circle cx="186.9" cy="1143.6" r="1.7" fill="#000" stroke-width="0"/>
<circle cx="189.0" cy="1140.6" r="0.8" fill="#000" stroke-width="0"/>
<circle cx="212.0" cy="1142.6" r="1.8" fill="none" stroke-width="1.6"/>
<circle cx="171.4" cy="1140.9" r="1.2" fill="#000" stroke-width="0"/>
<circle cx="201.0" cy="1143.0" r="0.8" fill="#000" stroke-width="0"/>
<circle cx="167.8" cy="1142.1" r="2.3" fill="#000" stroke-width="0"/>
<circle cx="115.6" cy="1140.0" r="2.3" fill="#000" stroke-width="0"/>
<circle cx="208.6" cy="1140.8" r="2.3" fill="#000" stroke-width="0"/>
<circle cx="206.5" cy="1141.8" r="1.8" fill="none" stroke-width="1.6"/>
<circle cx="182.8" cy="1143.1" r="1.7" fill="#000" stroke-width="0"/>
<circle cx="165.4" cy="1140.0" r="2.3" fill="#000" stroke-width="0"/>
<circle cx="193.1" cy="1143.7" r="0.8" fill="#000" stroke-width="0"/>
<polyline points="446.0,1077.0 522.0,1135.0" stroke-width="2"/>
<polygon points="428.5,1140.0 524.0,1140.0 531.6,1147.4 428.5,1147.4" fill="none" stroke-width="2"/>
<polygon points="440.0,1134.5 570.0,1135.0 582.0,1137.5 570.0,1139.5 440.0,1139.5" fill="none" stroke-width="1.4"/>
<path d="M437,1120 Q437,1134 446,1134" stroke-width="2.5" fill="none"/>
<circle cx="468.6" cy="1104.1" r="1.7" fill="#000" stroke-width="0"/>
<circle cx="466.7" cy="1119.2" r="1.0" fill="#000" stroke-width="0"/>
<circle cx="474.2" cy="1102.5" r="2.3" fill="#000" stroke-width="0"/>
<circle cx="457.7" cy="1106.2" r="2.0" fill="#000" stroke-width="0"/>
<circle cx="490.2" cy="1117.4" r="2.0" fill="#000" stroke-width="0"/>
<circle cx="473.4" cy="1124.0" r="1.2" fill="#000" stroke-width="0"/>
<circle cx="482.0" cy="1117.8" r="2.0" fill="#000" stroke-width="0"/>
<circle cx="459.1" cy="1126.2" r="1.2" fill="#000" stroke-width="0"/>
<circle cx="460.3" cy="1109.5" r="1.0" fill="#000" stroke-width="0"/>
<circle cx="453.5" cy="1124.7" r="0.8" fill="#000" stroke-width="0"/>
<circle cx="459.0" cy="1098.5" r="1.7" fill="#000" stroke-width="0"/>
<circle cx="484.6" cy="1110.7" r="1.8" fill="none" stroke-width="1.6"/>
<circle cx="458.6" cy="1092.1" r="2.0" fill="#000" stroke-width="0"/>
<circle cx="472.6" cy="1126.2" r="2.3" fill="#000" stroke-width="0"/>
<circle cx="481.6" cy="1121.4" r="1.7" fill="#000" stroke-width="0"/>
<circle cx="492.2" cy="1115.4" r="2.0" fill="#000" stroke-width="0"/>
<circle cx="465.6" cy="1117.1" r="2.3" fill="#000" stroke-width="0"/>
<circle cx="461.2" cy="1098.5" r="1.2" fill="#000" stroke-width="0"/>
<circle cx="450.8" cy="1122.6" r="0.8" fill="#000" stroke-width="0"/>
<circle cx="504.6" cy="1128.2" r="1.0" fill="#000" stroke-width="0"/>
<circle cx="470.0" cy="1105.5" r="1.8" fill="none" stroke-width="1.6"/>
<circle cx="490.1" cy="1127.3" r="1.7" fill="#000" stroke-width="0"/>
<circle cx="458.6" cy="1119.1" r="1.7" fill="#000" stroke-width="0"/>
<circle cx="483.9" cy="1115.8" r="1.2" fill="#000" stroke-width="0"/>
<circle cx="464.6" cy="1105.1" r="1.2" fill="#000" stroke-width="0"/>
<circle cx="449.5" cy="1084.4" r="1.7" fill="#000" stroke-width="0"/>
<circle cx="480.7" cy="1124.9" r="1.7" fill="#000" stroke-width="0"/>
<circle cx="479.5" cy="1108.0" r="2.0" fill="#000" stroke-width="0"/>
<circle cx="456.4" cy="1106.4" r="1.2" fill="#000" stroke-width="0"/>
<circle cx="474.1" cy="1127.9" r="2.3" fill="#000" stroke-width="0"/>
<circle cx="471.6" cy="1144.8" r="1.0" fill="#000" stroke-width="0"/>
<circle cx="454.3" cy="1143.0" r="2.0" fill="#000" stroke-width="0"/>
<circle cx="493.3" cy="1142.6" r="2.0" fill="#000" stroke-width="0"/>
<circle cx="507.8" cy="1142.1" r="1.0" fill="#000" stroke-width="0"/>
<circle cx="472.2" cy="1143.9" r="1.7" fill="#000" stroke-width="0"/>
<circle cx="452.8" cy="1144.0" r="1.2" fill="#000" stroke-width="0"/>
<circle cx="479.8" cy="1143.6" r="1.2" fill="#000" stroke-width="0"/>
<circle cx="439.7" cy="1143.5" r="1.0" fill="#000" stroke-width="0"/>
<circle cx="469.5" cy="1144.0" r="1.0" fill="#000" stroke-width="0"/>
<line x1="126.0" y1="1147.0" x2="112.0" y2="1161.0" stroke-width="1.5"/>
<line x1="136.0" y1="1147.0" x2="115.0" y2="1167.0" stroke-width="1.5"/>
<line x1="144.0" y1="1149.0" x2="122.0" y2="1172.0" stroke-width="1.5"/>
<line x1="148.0" y1="1147.0" x2="164.0" y2="1164.0" stroke-width="1.5"/>
<line x1="155.0" y1="1147.0" x2="170.0" y2="1160.0" stroke-width="1.5"/>
<line x1="175.0" y1="1147.0" x2="158.0" y2="1160.0" stroke-width="1.5"/>
<line x1="182.0" y1="1147.0" x2="165.0" y2="1163.0" stroke-width="1.5"/>
<line x1="510.0" y1="1148.0" x2="534.0" y2="1172.0" stroke-width="1.5"/>
<line x1="516.0" y1="1148.0" x2="538.0" y2="1168.0" stroke-width="1.5"/>
<line x1="522.0" y1="1148.0" x2="542.0" y2="1164.0" stroke-width="1.5"/>
<line x1="563.0" y1="1140.0" x2="537.0" y2="1160.0" stroke-width="1.5"/>
<line x1="557.0" y1="1140.0" x2="531.0" y2="1162.0" stroke-width="1.5"/>
<line x1="550.0" y1="1140.0" x2="528.0" y2="1158.0" stroke-width="1.5"/>
<line x1="444.0" y1="1150.0" x2="430.0" y2="1163.0" stroke-width="1.5"/>
<line x1="216.0" y1="1155.0" x2="180.0" y2="1198.0" stroke-width="1.5"/>
<line x1="216.0" y1="1160.5" x2="180.0" y2="1203.5" stroke-width="1.5"/>
<line x1="216.0" y1="1166.0" x2="180.0" y2="1209.0" stroke-width="1.5"/>
<line x1="187.0" y1="1199.0" x2="216.0" y2="1225.0" stroke-width="1.5"/>
<line x1="194.0" y1="1196.0" x2="216.0" y2="1216.0" stroke-width="1.5"/>
<line x1="201.0" y1="1193.0" x2="216.0" y2="1207.0" stroke-width="1.5"/>
<line x1="216.0" y1="1245.0" x2="180.0" y2="1288.0" stroke-width="1.5"/>
<line x1="216.0" y1="1250.5" x2="180.0" y2="1293.5" stroke-width="1.5"/>
<line x1="216.0" y1="1256.0" x2="180.0" y2="1299.0" stroke-width="1.5"/>
<line x1="187.0" y1="1289.0" x2="216.0" y2="1315.0" stroke-width="1.5"/>
<line x1="194.0" y1="1286.0" x2="216.0" y2="1306.0" stroke-width="1.5"/>
<line x1="201.0" y1="1283.0" x2="216.0" y2="1297.0" stroke-width="1.5"/>
<line x1="216.0" y1="1368.0" x2="191.0" y2="1400.0" stroke-width="1.5"/>
<line x1="216.0" y1="1374.0" x2="191.0" y2="1406.0" stroke-width="1.5"/>
<line x1="427.0" y1="1170.0" x2="452.5" y2="1150.0" stroke-width="1.5"/>
<line x1="427.0" y1="1175.5" x2="452.5" y2="1155.5" stroke-width="1.5"/>
<line x1="427.0" y1="1181.0" x2="452.5" y2="1161.0" stroke-width="1.5"/>
<line x1="427.0" y1="1167.0" x2="457.0" y2="1204.0" stroke-width="1.5"/>
<line x1="427.0" y1="1172.5" x2="457.0" y2="1209.5" stroke-width="1.5"/>
<line x1="427.0" y1="1178.0" x2="457.0" y2="1215.0" stroke-width="1.5"/>
<line x1="427.0" y1="1216.0" x2="443.0" y2="1202.0" stroke-width="1.5"/>
<line x1="427.0" y1="1223.0" x2="443.0" y2="1209.0" stroke-width="1.5"/>
<line x1="427.0" y1="1248.0" x2="452.5" y2="1228.0" stroke-width="1.5"/>
<line x1="427.0" y1="1253.5" x2="452.5" y2="1233.5" stroke-width="1.5"/>
<line x1="427.0" y1="1259.0" x2="452.5" y2="1239.0" stroke-width="1.5"/>
<line x1="427.0" y1="1245.0" x2="457.0" y2="1282.0" stroke-width="1.5"/>
<line x1="427.0" y1="1250.5" x2="457.0" y2="1287.5" stroke-width="1.5"/>
<line x1="427.0" y1="1256.0" x2="457.0" y2="1293.0" stroke-width="1.5"/>
<line x1="427.0" y1="1294.0" x2="443.0" y2="1280.0" stroke-width="1.5"/>
<line x1="427.0" y1="1301.0" x2="443.0" y2="1287.0" stroke-width="1.5"/>
<line x1="427.0" y1="1364.0" x2="457.0" y2="1327.0" stroke-width="1.5"/>
<line x1="427.0" y1="1358.5" x2="457.0" y2="1321.5" stroke-width="1.5"/>
<line x1="427.0" y1="1353.0" x2="457.0" y2="1316.0" stroke-width="1.5"/>
<line x1="427.0" y1="1364.0" x2="457.0" y2="1396.0" stroke-width="1.5"/>
<line x1="427.0" y1="1369.5" x2="457.0" y2="1401.5" stroke-width="1.5"/>
<line x1="427.0" y1="1375.0" x2="457.0" y2="1407.0" stroke-width="1.5"/>
<line x1="212.0" y1="1398.0" x2="191.0" y2="1418.0" stroke-width="1.5"/>
<line x1="212.0" y1="1403.0" x2="191.0" y2="1423.0" stroke-width="1.5"/>
<line x1="212.0" y1="1408.0" x2="191.0" y2="1428.0" stroke-width="1.5"/>
<line x1="219.0" y1="1398.0" x2="241.0" y2="1420.0" stroke-width="1.5"/>
<line x1="224.0" y1="1398.0" x2="246.0" y2="1420.0" stroke-width="1.5"/>
<line x1="229.0" y1="1398.0" x2="251.0" y2="1420.0" stroke-width="1.5"/>
<line x1="249.0" y1="1398.0" x2="271.0" y2="1413.0" stroke-width="1.5"/>
<line x1="255.0" y1="1398.0" x2="277.0" y2="1413.0" stroke-width="1.5"/>
<line x1="297.0" y1="1398.0" x2="258.0" y2="1424.0" stroke-width="1.5"/>
<line x1="291.0" y1="1398.0" x2="252.0" y2="1424.0" stroke-width="1.5"/>
<line x1="285.0" y1="1398.0" x2="246.0" y2="1424.0" stroke-width="1.5"/>
<line x1="333.0" y1="1398.0" x2="372.0" y2="1424.0" stroke-width="1.5"/>
<line x1="339.0" y1="1398.0" x2="378.0" y2="1424.0" stroke-width="1.5"/>
<line x1="345.0" y1="1398.0" x2="384.0" y2="1424.0" stroke-width="1.5"/>
<line x1="384.0" y1="1398.0" x2="361.0" y2="1414.0" stroke-width="1.5"/>
<line x1="378.0" y1="1398.0" x2="355.0" y2="1414.0" stroke-width="1.5"/>
<line x1="372.0" y1="1398.0" x2="349.0" y2="1414.0" stroke-width="1.5"/>
<line x1="190.0" y1="1393.0" x2="180.0" y2="1405.0" stroke-width="1.5"/>
<polyline points="300.0,168.0 292.0,168.0 321.0,122.0" stroke-width="2.2"/>
<polygon points="326.0,113.0 323.4,125.4 316.5,121.3" fill="#000" stroke-width="0"/>
<line x1="297.7" y1="608.6" x2="226.0" y2="608.6" stroke-width="1.3"/>
<polygon points="221.0,608.6 231.0,606.1 231.0,611.1" fill="#000" stroke-width="0"/>
<line x1="356.7" y1="608.6" x2="426.8" y2="608.6" stroke-width="1.3"/>
<polygon points="431.8,608.6 421.8,611.1 421.8,606.1" fill="#000" stroke-width="0"/>
<line x1="368.5" y1="745.0" x2="371.8" y2="763.6" stroke-width="2.2"/>
<line x1="371.8" y1="763.6" x2="237.9" y2="784.6" stroke-width="2.2"/>
<polygon points="232.0,785.5 243.3,780.2 244.4,787.1" fill="#000" stroke-width="0"/>
<line x1="371.8" y1="763.6" x2="408.1" y2="770.8" stroke-width="2.2"/>
<polygon points="414.0,772.0 401.5,773.1 402.9,766.2" fill="#000" stroke-width="0"/>
<polyline points="270.8,848.5 250.5,848.5 236.0,861.0" stroke-width="2.2"/>
<polygon points="232.0,865.0 238.5,854.3 243.2,859.5" fill="#000" stroke-width="0"/>
<polyline points="390.4,848.0 395.4,848.0 411.0,861.0" stroke-width="2.2"/>
<polygon points="415.6,865.0 404.2,859.9 408.7,854.6" fill="#000" stroke-width="0"/>
<line x1="159.0" y1="1297.5" x2="214.5" y2="1273.4" stroke-width="2.2"/>
<polygon points="220.0,1271.0 210.4,1279.0 207.6,1272.6" fill="#000" stroke-width="0"/>
<line x1="274.0" y1="1357.5" x2="253.1" y2="1392.4" stroke-width="2.2"/>
<polygon points="250.0,1397.5 253.2,1385.4 259.2,1389.0" fill="#000" stroke-width="0"/>
<line x1="462.0" y1="920.0" x2="450.5" y2="920.0" stroke-width="1.8"/>
<polygon points="446.0,920.0 455.0,916.5 455.0,923.5" fill="#000" stroke-width="0"/>
<line x1="480.6" y1="991.3" x2="454.2" y2="998.9" stroke-width="2.2"/>
<polygon points="448.4,1000.5 459.0,993.8 460.9,1000.6" fill="#000" stroke-width="0"/>
<line x1="538.0" y1="1108.8" x2="507.3" y2="1115.7" stroke-width="2.2"/>
<polygon points="501.4,1117.0 512.3,1111.0 513.9,1117.8" fill="#000" stroke-width="0"/>
<line x1="477.0" y1="1205.0" x2="432.7" y2="1220.5" stroke-width="2.2"/>
<polygon points="427.0,1222.5 437.2,1215.2 439.5,1221.8" fill="#000" stroke-width="0"/>
</g>
<rect x="150" y="966" width="62" height="24" fill="#fff"/>
<g font-family="'Liberation Mono', monospace" font-size="23.0" fill="#000" stroke="#000" stroke-width="0" transform="scale(0.8435,1)">
<text x="308.0" y="92.0" xml:space="preserve">Plumbing Peg</text>
<text x="367.3" y="176.0" xml:space="preserve">Sealing</text>
<text x="298.5" y="201.0" xml:space="preserve">platform not yet</text>
<text x="353.1" y="223.0" xml:space="preserve">unstalled</text>
<text x="594.9" y="146.0" xml:space="preserve">Ground level</text>
<text x="153.9" y="155.0" xml:space="preserve">15cm</text>
<text x="568.8" y="288.0" xml:space="preserve">15cm</text>
<text x="564.1" y="365.0" xml:space="preserve">7 No 3, 20cm</text>
<text x="632.9" y="390.0" xml:space="preserve">M.S. Rods</text>
<text x="127.8" y="464.0" xml:space="preserve">4.5m</text>
<text x="168.1" y="502.0" xml:space="preserve">7.5cm</text>
<text x="554.6" y="573.0" xml:space="preserve">Supporting</text>
<text x="596.1" y="597.0" xml:space="preserve">Pins</text>
<text x="361.4" y="617.0" xml:space="preserve">1.2m</text>
<text x="273.6" y="714.0" xml:space="preserve">These bolts hold</text>
<text x="311.6" y="737.0" xml:space="preserve">next ring</text>
<text x="579.5" y="725.0" xml:space="preserve">Curb</text>
<text x="597.3" y="791.0" xml:space="preserve">30cm</text>
<text x="322.2" y="836.0" xml:space="preserve">More rings</text>
<text x="322.2" y="859.0" xml:space="preserve">added here</text>
<text x="546.3" y="929.0" xml:space="preserve">Loose earth filling</text>
<text x="11.0" y="962.0" xml:space="preserve">DEEP DUG</text>
<text x="11.0" y="985.0" xml:space="preserve">WELL CONSTRUCTION</text>
<text x="11.0" y="1008.8" xml:space="preserve">METHOD</text>
<text x="11.0" y="1044.0" xml:space="preserve">FIG. 2</text>
<text x="577.1" y="975.0" xml:space="preserve">Built-in-</text>
<text x="577.1" y="997.0" xml:space="preserve">place lining</text>
<text x="577.1" y="1019.0" xml:space="preserve">guides</text>
<text x="577.1" y="1043.0" xml:space="preserve">caisson</text>
<text x="577.1" y="1065.0" xml:space="preserve">straight</text>
<text x="647.7" y="1102.0" xml:space="preserve">Large curb</text>
<text x="647.7" y="1126.0" xml:space="preserve">at bottom</text>
<text x="715.8" y="1149.5" xml:space="preserve">of built-</text>
<text x="715.8" y="1173.0" xml:space="preserve">in-place</text>
<text x="715.8" y="1195.0" xml:space="preserve">lining</text>
<text x="564.1" y="1217.5" xml:space="preserve">Caisson drops</text>
<text x="564.1" y="1240.0" xml:space="preserve">as digging</text>
<text x="564.1" y="1263.0" xml:space="preserve">proceeds</text>
<text x="60.8" y="1257.5" xml:space="preserve">Long bolts</text>
<text x="60.8" y="1281.0" xml:space="preserve">hold rings</text>
<text x="60.8" y="1302.5" xml:space="preserve">together</text>
<text x="327.6" y="1345.0" xml:space="preserve">ONE MAN</text>
<text x="327.6" y="1367.5" xml:space="preserve">OIGS HERE</text>
<text x="565.9" y="1405.0" xml:space="preserve">SCALE:  lcm = 1.2m</text>
</g>
<rect x="640" y="1196.5" width="50" height="5" fill="#fff"/>
</svg>
</body></html>
